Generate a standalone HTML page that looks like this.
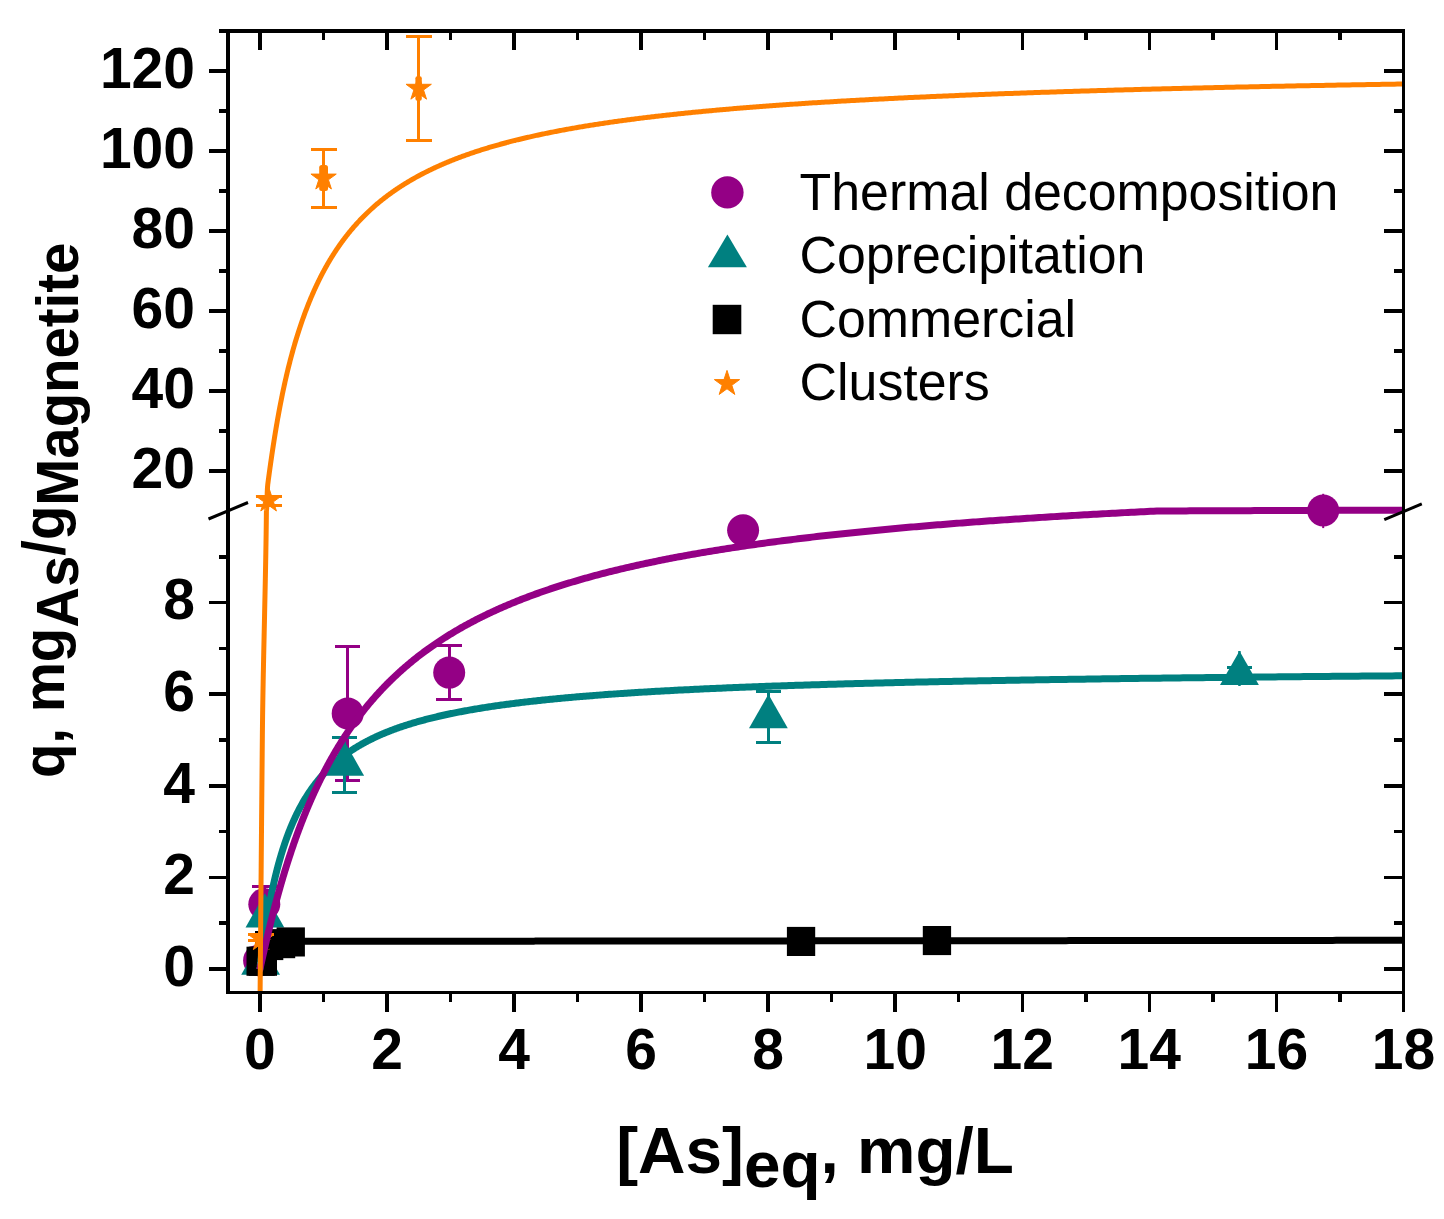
<!DOCTYPE html><html><head><meta charset="utf-8"><title>chart</title><style>html,body{margin:0;padding:0;background:#fff}svg{display:block}text{font-family:"Liberation Sans",sans-serif}</style></head><body>
<svg width="1444" height="1219" viewBox="0 0 1444 1219">
<rect width="100%" height="100%" fill="#fff"/>
<g id="purple-pts">
<g fill="#940085" shape-rendering="crispEdges"><rect x="263.0" y="886.5" width="3.0" height="35.5"/><rect x="252.0" y="885.0" width="25.0" height="3.0"/><rect x="252.0" y="920.5" width="25.0" height="3.0"/></g>
<g fill="#940085" shape-rendering="crispEdges"><rect x="346.2" y="646.8" width="3.0" height="133.4"/><rect x="335.2" y="645.3" width="25.0" height="3.0"/><rect x="335.2" y="778.7" width="25.0" height="3.0"/></g>
<g fill="#940085" shape-rendering="crispEdges"><rect x="447.7" y="645.8" width="3.0" height="54.1"/><rect x="436.2" y="644.3" width="26.0" height="3.0"/><rect x="436.2" y="698.4" width="26.0" height="3.0"/></g>
<circle cx="259.1" cy="960.4" r="16.0" fill="#940085"/>
<circle cx="264.3" cy="904.3" r="16.0" fill="#940085"/>
<circle cx="347.7" cy="713.4" r="16.0" fill="#940085"/>
<circle cx="449.2" cy="672.6" r="16.0" fill="#940085"/>
<circle cx="743.1" cy="530.2" r="16.0" fill="#940085"/>
<circle cx="1323.2" cy="510.5" r="16.0" fill="#940085"/>
<rect x="1322.2" y="493.8" width="2" height="34.3" fill="#940085"/>
</g>
<g id="teal-pts">
<g fill="#008080" shape-rendering="crispEdges"><rect x="343.2" y="737.6" width="3.0" height="54.8"/><rect x="332.2" y="736.1" width="25.0" height="3.0"/><rect x="332.2" y="790.9" width="25.0" height="3.0"/></g>
<g fill="#008080" shape-rendering="crispEdges"><rect x="766.9" y="691.5" width="3.0" height="51.2"/><rect x="755.9" y="690.0" width="25.0" height="3.0"/><rect x="755.9" y="741.2" width="25.0" height="3.0"/></g>
<g fill="#008080" shape-rendering="crispEdges"><rect x="1238.0" y="667.7" width="3.0" height="12.4"/><rect x="1227.0" y="666.2" width="25.0" height="3.0"/><rect x="1227.0" y="678.6" width="25.0" height="3.0"/></g>
<rect x="1238.2" y="651" width="2.5" height="35" fill="#008080"/>
<path d="M260.6,940.6 L280.0,974.7 L241.2,974.7 Z" fill="#008080"/>
<path d="M264.9,893.3 L284.3,927.4 L245.5,927.4 Z" fill="#008080"/>
<path d="M344.7,741.6 L364.1,775.7 L325.3,775.7 Z" fill="#008080"/>
<path d="M768.4,694.2 L787.8,728.3 L749.0,728.3 Z" fill="#008080"/>
<path d="M1239.5,651.0 L1258.9,685.1 L1220.0,685.1 Z" fill="#008080"/>
</g>
<g id="black-pts">
<rect x="276.6" y="927.4" width="28.3" height="29.1" fill="#000"/>
<rect x="266.9" y="929.1" width="28.3" height="29.1" fill="#000"/>
<rect x="255.0" y="931.0" width="28.3" height="29.1" fill="#000"/>
<rect x="246.5" y="946.7" width="28.3" height="29.1" fill="#000"/>
<rect x="248.7" y="946.7" width="28.3" height="29.1" fill="#000"/>
<rect x="786.9" y="926.9" width="28.3" height="29.1" fill="#000"/>
<rect x="922.8" y="926.0" width="28.3" height="29.1" fill="#000"/>
</g>
<g id="orange-pts">
<g fill="#FF8000" shape-rendering="crispEdges"><rect x="322.1" y="149.5" width="3.0" height="57.5"/><rect x="310.6" y="148.0" width="26.0" height="3.0"/><rect x="310.6" y="205.5" width="26.0" height="3.0"/></g>
<g fill="#FF8000" shape-rendering="crispEdges"><rect x="417.2" y="36.4" width="3.0" height="104.0"/><rect x="405.7" y="34.9" width="26.0" height="3.0"/><rect x="405.7" y="138.9" width="26.0" height="3.0"/></g>
<g fill="#FF8000" shape-rendering="crispEdges"><rect x="267.1" y="496.2" width="3.0" height="8.8"/><rect x="255.6" y="494.7" width="26.0" height="3.0"/><rect x="255.6" y="503.5" width="26.0" height="3.0"/></g>
<g fill="#FF8000" shape-rendering="crispEdges"><rect x="259.9" y="934.8" width="3.0" height="5.5"/><rect x="248.4" y="933.3" width="26.0" height="3.0"/><rect x="248.4" y="938.8" width="26.0" height="3.0"/></g>
<rect x="319.2" y="165.1" width="8.8" height="25.8" rx="2.5" fill="#FF8000"/>
<rect x="415.4" y="76.2" width="6.4" height="24.5" rx="2" fill="#FF8000"/>
<polygon points="323.60,164.90 326.59,174.09 336.25,174.09 328.43,179.77 331.42,188.96 323.60,183.28 315.78,188.96 318.77,179.77 310.95,174.09 320.61,174.09" fill="#FF8000" stroke="#FF8000" stroke-width="1" stroke-linejoin="round"/>
<polygon points="418.70,75.10 421.69,84.29 431.35,84.29 423.53,89.97 426.52,99.16 418.70,93.48 410.88,99.16 413.87,89.97 406.05,84.29 415.71,84.29" fill="#FF8000" stroke="#FF8000" stroke-width="1" stroke-linejoin="round"/>
<polygon points="268.60,486.90 271.59,496.09 281.25,496.09 273.43,501.77 276.42,510.96 268.60,505.28 260.78,510.96 263.77,501.77 255.95,496.09 265.61,496.09" fill="#FF8000" stroke="#FF8000" stroke-width="1" stroke-linejoin="round"/>
<polygon points="261.20,925.50 264.19,934.69 273.85,934.69 266.03,940.37 269.02,949.56 261.20,943.88 253.38,949.56 256.37,940.37 248.55,934.69 258.21,934.69" fill="#FF8000" stroke="#FF8000" stroke-width="1" stroke-linejoin="round"/>
</g>
<clipPath id="cp"><rect x="228.0" y="30.9" width="1175.4" height="961.5"/></clipPath>
<g fill="none" stroke-linejoin="round" clip-path="url(#cp)">
<path d="M259.90,969.00 L259.90,969.00 L259.90,969.00 L259.90,969.00 L259.90,969.00 L259.90,969.00 L259.90,969.00 L259.90,969.00 L259.90,968.99 L259.90,968.99 L259.90,968.99 L259.90,968.98 L259.90,968.98 L259.90,968.98 L259.90,968.97 L259.91,968.96 L259.91,968.95 L259.91,968.94 L259.91,968.93 L259.91,968.92 L259.91,968.91 L259.91,968.89 L259.92,968.88 L259.92,968.86 L259.92,968.84 L259.92,968.82 L259.93,968.80 L259.93,968.78 L259.93,968.75 L259.94,968.72 L259.94,968.69 L259.95,968.66 L259.95,968.63 L259.96,968.59 L259.96,968.56 L259.97,968.52 L259.97,968.47 L259.98,968.43 L259.99,968.38 L259.99,968.33 L260.00,968.28 L260.01,968.23 L260.02,968.17 L260.02,968.11 L260.03,968.05 L260.04,967.98 L260.05,967.92 L260.06,967.84 L260.07,967.77 L260.08,967.69 L260.10,967.62 L260.11,967.53 L260.12,967.45 L260.13,967.36 L260.15,967.27 L260.16,967.17 L260.18,967.07 L260.19,966.97 L260.21,966.87 L260.22,966.76 L260.24,966.65 L260.26,966.54 L260.27,966.42 L260.29,966.30 L260.31,966.18 L260.33,966.05 L260.35,965.92 L260.37,965.78 L260.39,965.65 L260.42,965.51 L260.44,965.36 L260.46,965.22 L260.49,965.07 L260.51,964.91 L260.54,964.76 L260.56,964.60 L260.59,964.43 L260.62,964.27 L260.64,964.10 L260.67,963.93 L260.70,963.75 L260.73,963.57 L260.76,963.39 L260.80,963.21 L260.83,963.02 L260.86,962.83 L260.90,962.64 L260.93,962.44 L260.97,962.25 L261.01,962.04 L261.04,961.84 L261.08,961.64 L261.12,961.43 L261.16,961.22 L261.20,961.00 L261.24,960.79 L261.29,960.57 L261.33,960.35 L261.38,960.13 L261.42,959.91 L261.47,959.68 L261.52,959.45 L261.56,959.23 L261.61,959.00 L261.66,958.76 L261.72,958.53 L261.77,958.30 L261.82,958.06 L261.88,957.83 L261.93,957.59 L261.99,957.35 L262.05,957.11 L262.10,956.87 L262.16,956.63 L262.22,956.39 L262.29,956.15 L262.35,955.91 L262.41,955.67 L262.48,955.43 L262.54,955.18 L262.61,954.94 L262.68,954.70 L262.75,954.46 L262.82,954.22 L262.89,953.98 L262.96,953.74 L263.04,953.50 L263.11,953.27 L263.19,953.03 L263.27,952.80 L263.35,952.56 L263.43,952.33 L263.51,952.10 L263.59,951.87 L263.67,951.64 L263.76,951.41 L263.85,951.19 L263.93,950.96 L264.02,950.74 L264.11,950.52 L264.20,950.31 L264.30,950.09 L264.39,949.88 L264.49,949.67 L264.58,949.46 L264.68,949.25 L264.78,949.05 L264.88,948.85 L264.99,948.65 L265.09,948.46 L265.19,948.26 L265.30,948.07 L265.41,947.89 L265.52,947.70 L265.63,947.52 L265.74,947.34 L265.86,947.17 L265.97,946.99 L266.09,946.82 L266.21,946.66 L266.33,946.50 L266.45,946.33 L266.57,946.18 L266.69,946.02 L266.82,945.87 L266.95,945.72 L267.08,945.58 L267.21,945.44 L267.34,945.30 L267.47,945.16 L267.61,945.03 L267.74,944.90 L267.88,944.78 L268.02,944.65 L268.16,944.53 L268.31,944.42 L268.45,944.30 L268.60,944.19 L268.75,944.09 L268.90,943.98 L269.05,943.88 L269.20,943.78 L269.36,943.68 L269.51,943.59 L269.67,943.50 L269.83,943.41 L269.99,943.33 L270.16,943.25 L270.32,943.17 L270.49,943.09 L270.66,943.01 L270.83,942.94 L271.00,942.87 L271.18,942.81 L271.35,942.74 L271.53,942.68 L271.71,942.62 L271.89,942.56 L272.08,942.50 L272.26,942.45 L272.45,942.40 L272.64,942.35 L272.83,942.30 L273.02,942.25 L273.22,942.21 L273.41,942.17 L273.61,942.13 L273.81,942.09 L274.02,942.05 L274.22,942.01 L274.43,941.98 L274.64,941.95 L274.85,941.92 L275.06,941.89 L275.27,941.86 L275.49,941.83 L275.71,941.80 L275.93,941.78 L276.15,941.76 L276.38,941.73 L276.60,941.71 L276.83,941.69 L277.06,941.67 L277.30,941.65 L277.53,941.64 L277.77,941.62 L278.01,941.60 L278.25,941.59 L278.49,941.58 L278.74,941.56 L278.99,941.55 L279.24,941.54 L279.49,941.53 L279.74,941.52 L280.00,941.51 L280.26,941.50 L280.52,941.49 L280.78,941.48 L281.05,941.47 L281.31,941.46 L281.58,941.46 L281.86,941.45 L282.13,941.44 L282.41,941.44 L282.69,941.43 L282.97,941.43 L283.25,941.42 L283.54,941.42 L283.83,941.41 L284.12,941.41 L284.41,941.40 L284.71,941.40 L285.00,941.40 L285.30,941.39 L285.61,941.39 L285.91,941.39 L286.22,941.39 L286.53,941.38 L286.84,941.38 L287.15,941.38 L287.47,941.38 L287.79,941.37 L288.11,941.37 L288.44,941.37 L288.76,941.37 L289.09,941.37 L289.42,941.37 L289.76,941.37 L290.09,941.36 L290.43,941.36 L290.78,941.36 L291.12,941.36 L291.47,941.36 L291.82,941.36 L292.17,941.36 L292.52,941.36 L292.88,941.36 L293.24,941.36 L293.60,941.36 L293.97,941.35 L294.33,941.35 L294.71,941.35 L295.08,941.35 L295.45,941.35 L295.83,941.35 L296.21,941.35 L296.60,941.35 L296.98,941.35 L297.37,941.35 L297.76,941.35 L298.16,941.35 L298.55,941.35 L298.95,941.35 L299.36,941.35 L299.76,941.35 L300.17,941.35 L300.58,941.35 L301.00,941.34 L301.41,941.34 L301.83,941.34 L302.25,941.34 L302.68,941.34 L303.11,941.34 L303.54,941.34 L303.97,941.34 L304.41,941.34 L304.85,941.34 L305.29,941.34 L305.73,941.34 L306.18,941.34 L306.63,941.34 L307.09,941.34 L307.54,941.34 L308.00,941.34 L308.46,941.34 L308.93,941.34 L309.40,941.34 L309.87,941.34 L310.34,941.34 L310.82,941.33 L311.30,941.33 L311.78,941.33 L312.27,941.33 L312.76,941.33 L313.25,941.33 L313.75,941.33 L314.25,941.33 L314.75,941.33 L315.25,941.33 L315.76,941.33 L316.27,941.33 L316.79,941.33 L317.30,941.33 L317.82,941.33 L318.35,941.33 L318.87,941.33 L319.40,941.33 L319.94,941.33 L320.47,941.33 L321.01,941.33 L321.55,941.32 L322.10,941.32 L322.65,941.32 L323.20,941.32 L323.76,941.32 L324.31,941.32 L324.88,941.32 L325.44,941.32 L326.01,941.32 L326.58,941.32 L327.16,941.32 L327.73,941.32 L328.32,941.32 L328.90,941.32 L329.49,941.32 L330.08,941.32 L330.67,941.32 L331.27,941.32 L331.87,941.32 L332.48,941.31 L333.09,941.31 L333.70,941.31 L334.31,941.31 L334.93,941.31 L335.55,941.31 L336.18,941.31 L336.81,941.31 L337.44,941.31 L338.07,941.31 L338.71,941.31 L339.36,941.31 L340.00,941.31 L340.65,941.31 L341.30,941.31 L341.96,941.31 L342.62,941.31 L343.28,941.30 L343.95,941.30 L344.62,941.30 L345.30,941.30 L345.97,941.30 L346.66,941.30 L347.34,941.30 L348.03,941.30 L348.72,941.30 L349.42,941.30 L350.12,941.30 L350.82,941.30 L351.53,941.30 L352.24,941.30 L352.95,941.30 L353.67,941.29 L354.39,941.29 L355.11,941.29 L355.84,941.29 L356.58,941.29 L357.31,941.29 L358.05,941.29 L358.79,941.29 L359.54,941.29 L360.29,941.29 L361.05,941.29 L361.81,941.29 L362.57,941.29 L363.34,941.29 L364.11,941.28 L364.88,941.28 L365.66,941.28 L366.44,941.28 L367.22,941.28 L368.01,941.28 L368.81,941.28 L369.60,941.28 L370.40,941.28 L371.21,941.28 L372.02,941.28 L372.83,941.28 L373.64,941.28 L374.47,941.28 L375.29,941.27 L376.12,941.27 L376.95,941.27 L377.79,941.27 L378.63,941.27 L379.47,941.27 L380.32,941.27 L381.17,941.27 L382.03,941.27 L382.89,941.27 L383.75,941.27 L384.62,941.27 L385.49,941.26 L386.37,941.26 L387.25,941.26 L388.13,941.26 L389.02,941.26 L389.91,941.26 L390.81,941.26 L391.71,941.26 L392.61,941.26 L393.52,941.26 L394.44,941.26 L395.35,941.26 L396.28,941.25 L397.20,941.25 L398.13,941.25 L399.06,941.25 L400.00,941.25 L400.95,941.25 L401.89,941.25 L402.84,941.25 L403.80,941.25 L404.76,941.25 L405.72,941.25 L406.69,941.25 L407.66,941.24 L408.64,941.24 L409.62,941.24 L410.60,941.24 L411.59,941.24 L412.59,941.24 L413.58,941.24 L414.59,941.24 L415.59,941.24 L416.60,941.24 L417.62,941.23 L418.64,941.23 L419.66,941.23 L420.69,941.23 L421.72,941.23 L422.76,941.23 L423.80,941.23 L424.85,941.23 L425.90,941.23 L426.95,941.23 L428.01,941.23 L429.08,941.22 L430.15,941.22 L431.22,941.22 L432.30,941.22 L433.38,941.22 L434.47,941.22 L435.56,941.22 L436.65,941.22 L437.75,941.22 L438.86,941.21 L439.97,941.21 L441.08,941.21 L442.20,941.21 L443.32,941.21 L444.45,941.21 L445.58,941.21 L446.72,941.21 L447.86,941.21 L449.01,941.21 L450.16,941.20 L451.31,941.20 L452.47,941.20 L453.64,941.20 L454.81,941.20 L455.98,941.20 L457.16,941.20 L458.34,941.20 L459.53,941.20 L460.72,941.19 L461.92,941.19 L463.12,941.19 L464.33,941.19 L465.54,941.19 L466.76,941.19 L467.98,941.19 L469.21,941.19 L470.44,941.19 L471.68,941.18 L472.92,941.18 L474.16,941.18 L475.41,941.18 L476.67,941.18 L477.93,941.18 L479.19,941.18 L480.46,941.18 L481.74,941.17 L483.02,941.17 L484.30,941.17 L485.59,941.17 L486.89,941.17 L488.19,941.17 L489.49,941.17 L490.80,941.17 L492.12,941.16 L493.43,941.16 L494.76,941.16 L496.09,941.16 L497.42,941.16 L498.76,941.16 L500.11,941.16 L501.46,941.16 L502.81,941.15 L504.17,941.15 L505.53,941.15 L506.90,941.15 L508.28,941.15 L509.66,941.15 L511.04,941.15 L512.43,941.15 L513.83,941.14 L515.23,941.14 L516.64,941.14 L518.05,941.14 L519.46,941.14 L520.88,941.14 L522.31,941.14 L523.74,941.14 L525.18,941.13 L526.62,941.13 L528.07,941.13 L529.52,941.13 L530.97,941.13 L532.44,941.13 L533.91,941.13 L535.38,941.12 L536.86,941.12 L538.34,941.12 L539.83,941.12 L541.32,941.12 L542.82,941.12 L544.33,941.12 L545.84,941.11 L547.35,941.11 L548.88,941.11 L550.40,941.11 L551.93,941.11 L553.47,941.11 L555.01,941.11 L556.56,941.10 L558.11,941.10 L559.67,941.10 L561.24,941.10 L562.81,941.10 L564.38,941.10 L565.96,941.10 L567.55,941.09 L569.14,941.09 L570.73,941.09 L572.34,941.09 L573.94,941.09 L575.56,941.09 L577.18,941.09 L578.80,941.08 L580.43,941.08 L582.07,941.08 L583.71,941.08 L585.35,941.08 L587.01,941.08 L588.66,941.07 L590.33,941.07 L592.00,941.07 L593.67,941.07 L595.35,941.07 L597.04,941.07 L598.73,941.07 L600.42,941.06 L602.13,941.06 L603.83,941.06 L605.55,941.06 L607.27,941.06 L608.99,941.06 L610.72,941.05 L612.46,941.05 L614.20,941.05 L615.95,941.05 L617.71,941.05 L619.47,941.05 L621.23,941.04 L623.00,941.04 L624.78,941.04 L626.56,941.04 L628.35,941.04 L630.15,941.04 L631.95,941.03 L633.75,941.03 L635.56,941.03 L637.38,941.03 L639.20,941.03 L641.03,941.03 L642.87,941.02 L644.71,941.02 L646.56,941.02 L648.41,941.02 L650.27,941.02 L652.13,941.02 L654.00,941.01 L655.88,941.01 L657.76,941.01 L659.65,941.01 L661.55,941.01 L663.45,941.00 L665.35,941.00 L667.27,941.00 L669.19,941.00 L671.11,941.00 L673.04,941.00 L674.98,940.99 L676.92,940.99 L678.87,940.99 L680.82,940.99 L682.78,940.99 L684.75,940.98 L686.72,940.98 L688.70,940.98 L690.69,940.98 L692.68,940.98 L694.68,940.98 L696.68,940.97 L698.69,940.97 L700.71,940.97 L702.73,940.97 L704.76,940.97 L706.79,940.96 L708.83,940.96 L710.88,940.96 L712.93,940.96 L714.99,940.96 L717.06,940.95 L719.13,940.95 L721.21,940.95 L723.29,940.95 L725.38,940.95 L727.48,940.94 L729.58,940.94 L731.69,940.94 L733.81,940.94 L735.93,940.94 L738.06,940.93 L740.19,940.93 L742.33,940.93 L744.48,940.93 L746.63,940.93 L748.79,940.92 L750.96,940.92 L753.13,940.92 L755.31,940.92 L757.50,940.92 L759.69,940.91 L761.89,940.91 L764.09,940.91 L766.30,940.91 L768.52,940.91 L770.74,940.90 L772.98,940.90 L775.21,940.90 L777.46,940.90 L779.71,940.90 L781.96,940.89 L784.23,940.89 L786.50,940.89 L788.77,940.89 L791.06,940.88 L793.35,940.88 L795.64,940.88 L797.94,940.88 L800.25,940.88 L802.57,940.87 L804.89,940.87 L807.22,940.87 L809.56,940.87 L811.90,940.87 L814.25,940.86 L816.60,940.86 L818.97,940.86 L821.33,940.86 L823.71,940.85 L826.09,940.85 L828.48,940.85 L830.88,940.85 L833.28,940.85 L835.69,940.84 L838.10,940.84 L840.53,940.84 L842.96,940.84 L845.39,940.83 L847.84,940.83 L850.29,940.83 L852.74,940.83 L855.21,940.82 L857.68,940.82 L860.15,940.82 L862.64,940.82 L865.13,940.82 L867.62,940.81 L870.13,940.81 L872.64,940.81 L875.16,940.81 L877.68,940.80 L880.21,940.80 L882.75,940.80 L885.30,940.80 L887.85,940.79 L890.41,940.79 L892.98,940.79 L895.55,940.79 L898.13,940.78 L900.72,940.78 L903.31,940.78 L905.92,940.78 L908.52,940.77 L911.14,940.77 L913.76,940.77 L916.39,940.77 L919.03,940.76 L921.67,940.76 L924.32,940.76 L926.98,940.76 L929.64,940.75 L932.32,940.75 L934.99,940.75 L937.68,940.75 L940.37,940.74 L943.07,940.74 L945.78,940.74 L948.50,940.74 L951.22,940.73 L953.95,940.73 L956.68,940.73 L959.43,940.73 L962.18,940.72 L964.93,940.72 L967.70,940.72 L970.47,940.72 L973.25,940.71 L976.04,940.71 L978.83,940.71 L981.63,940.71 L984.44,940.70 L987.26,940.70 L990.08,940.70 L992.91,940.70 L995.75,940.69 L998.59,940.69 L1001.44,940.69 L1004.30,940.68 L1007.17,940.68 L1010.04,940.68 L1012.92,940.68 L1015.81,940.67 L1018.71,940.67 L1021.61,940.67 L1024.52,940.67 L1027.44,940.66 L1030.37,940.66 L1033.30,940.66 L1036.24,940.66 L1039.19,940.65 L1042.15,940.65 L1045.11,940.65 L1048.08,940.64 L1051.06,940.64 L1054.04,940.64 L1057.04,940.64 L1060.04,940.63 L1063.04,940.63 L1066.06,940.63 L1069.08,940.62 L1072.11,940.62 L1075.15,940.62 L1078.20,940.62 L1081.25,940.61 L1084.31,940.61 L1087.38,940.61 L1090.46,940.60 L1093.54,940.60 L1096.63,940.60 L1099.73,940.60 L1102.84,940.59 L1105.95,940.59 L1109.07,940.59 L1112.20,940.58 L1115.34,940.58 L1118.49,940.58 L1121.64,940.57 L1124.80,940.57 L1127.97,940.57 L1131.14,940.57 L1134.33,940.56 L1137.52,940.56 L1140.72,940.56 L1143.92,940.55 L1147.14,940.55 L1150.36,940.55 L1153.59,940.55 L1156.83,940.54 L1160.07,940.54 L1163.33,940.54 L1166.59,940.53 L1169.86,940.53 L1173.14,940.53 L1176.42,940.52 L1179.71,940.52 L1183.02,940.52 L1186.32,940.51 L1189.64,940.51 L1192.96,940.51 L1196.30,940.51 L1199.64,940.50 L1202.99,940.50 L1206.34,940.50 L1209.71,940.49 L1213.08,940.49 L1216.46,940.49 L1219.85,940.48 L1223.24,940.48 L1226.65,940.48 L1230.06,940.47 L1233.48,940.47 L1236.91,940.47 L1240.34,940.46 L1243.79,940.46 L1247.24,940.46 L1250.70,940.45 L1254.17,940.45 L1257.64,940.45 L1261.13,940.44 L1264.62,940.44 L1268.12,940.44 L1271.63,940.43 L1275.15,940.43 L1278.67,940.43 L1282.21,940.42 L1285.75,940.42 L1289.30,940.42 L1292.86,940.41 L1296.42,940.41 L1300.00,940.41 L1303.58,940.40 L1307.17,940.40 L1310.77,940.40 L1314.37,940.39 L1317.99,940.39 L1321.61,940.39 L1325.25,940.38 L1328.89,940.38 L1332.53,940.38 L1336.19,940.37 L1339.86,940.37 L1343.53,940.37 L1347.21,940.36 L1350.90,940.36 L1354.60,940.36 L1358.31,940.35 L1362.02,940.35 L1365.74,940.35 L1369.48,940.34 L1373.22,940.34 L1376.96,940.34 L1380.72,940.33 L1384.49,940.33 L1388.26,940.33 L1392.04,940.32 L1395.83,940.32 L1399.63,940.31 L1403.44,940.31" stroke="#000" stroke-width="7"/>
<path d="M259.90,969.00 L259.90,969.00 L259.90,969.00 L259.90,969.00 L259.90,969.00 L259.90,969.00 L259.90,969.00 L259.90,969.00 L259.90,968.99 L259.90,968.99 L259.90,968.99 L259.90,968.98 L259.90,968.98 L259.90,968.97 L259.90,968.96 L259.91,968.95 L259.91,968.94 L259.91,968.93 L259.91,968.92 L259.91,968.91 L259.91,968.89 L259.91,968.87 L259.92,968.86 L259.92,968.84 L259.92,968.81 L259.92,968.79 L259.93,968.76 L259.93,968.73 L259.93,968.70 L259.94,968.67 L259.94,968.63 L259.95,968.60 L259.95,968.56 L259.96,968.51 L259.96,968.47 L259.97,968.42 L259.97,968.37 L259.98,968.32 L259.99,968.26 L259.99,968.20 L260.00,968.14 L260.01,968.07 L260.02,968.00 L260.02,967.93 L260.03,967.85 L260.04,967.77 L260.05,967.69 L260.06,967.60 L260.07,967.51 L260.08,967.42 L260.10,967.32 L260.11,967.22 L260.12,967.11 L260.13,967.00 L260.15,966.88 L260.16,966.76 L260.18,966.64 L260.19,966.51 L260.21,966.38 L260.22,966.25 L260.24,966.10 L260.26,965.96 L260.27,965.81 L260.29,965.65 L260.31,965.49 L260.33,965.33 L260.35,965.16 L260.37,964.98 L260.39,964.80 L260.42,964.62 L260.44,964.43 L260.46,964.23 L260.49,964.03 L260.51,963.82 L260.54,963.61 L260.56,963.40 L260.59,963.17 L260.62,962.94 L260.64,962.71 L260.67,962.47 L260.70,962.23 L260.73,961.97 L260.76,961.72 L260.80,961.45 L260.83,961.19 L260.86,960.91 L260.90,960.63 L260.93,960.34 L260.97,960.05 L261.01,959.75 L261.04,959.44 L261.08,959.13 L261.12,958.82 L261.16,958.49 L261.20,958.16 L261.24,957.82 L261.29,957.48 L261.33,957.13 L261.38,956.78 L261.42,956.41 L261.47,956.05 L261.52,955.67 L261.56,955.29 L261.61,954.90 L261.66,954.51 L261.72,954.10 L261.77,953.70 L261.82,953.28 L261.88,952.86 L261.93,952.43 L261.99,952.00 L262.05,951.56 L262.10,951.11 L262.16,950.66 L262.22,950.20 L262.29,949.73 L262.35,949.25 L262.41,948.77 L262.48,948.29 L262.54,947.79 L262.61,947.29 L262.68,946.78 L262.75,946.27 L262.82,945.75 L262.89,945.22 L262.96,944.69 L263.04,944.15 L263.11,943.60 L263.19,943.05 L263.27,942.49 L263.35,941.93 L263.43,941.36 L263.51,940.78 L263.59,940.19 L263.67,939.60 L263.76,939.00 L263.85,938.40 L263.93,937.79 L264.02,937.18 L264.11,936.55 L264.20,935.92 L264.30,935.29 L264.39,934.65 L264.49,934.00 L264.58,933.35 L264.68,932.69 L264.78,932.03 L264.88,931.36 L264.99,930.69 L265.09,930.00 L265.19,929.32 L265.30,928.63 L265.41,927.93 L265.52,927.22 L265.63,926.52 L265.74,925.80 L265.86,925.08 L265.97,924.36 L266.09,923.63 L266.21,922.89 L266.33,922.15 L266.45,921.41 L266.57,920.66 L266.69,919.91 L266.82,919.15 L266.95,918.38 L267.08,917.61 L267.21,916.84 L267.34,916.06 L267.47,915.28 L267.61,914.50 L267.74,913.71 L267.88,912.91 L268.02,912.11 L268.16,911.31 L268.31,910.50 L268.45,909.69 L268.60,908.88 L268.75,908.06 L268.90,907.24 L269.05,906.41 L269.20,905.58 L269.36,904.75 L269.51,903.92 L269.67,903.08 L269.83,902.24 L269.99,901.39 L270.16,900.54 L270.32,899.69 L270.49,898.84 L270.66,897.98 L270.83,897.12 L271.00,896.26 L271.18,895.40 L271.35,894.53 L271.53,893.66 L271.71,892.79 L271.89,891.92 L272.08,891.04 L272.26,890.16 L272.45,889.28 L272.64,888.40 L272.83,887.52 L273.02,886.63 L273.22,885.75 L273.41,884.86 L273.61,883.97 L273.81,883.08 L274.02,882.19 L274.22,881.30 L274.43,880.40 L274.64,879.51 L274.85,878.61 L275.06,877.71 L275.27,876.82 L275.49,875.92 L275.71,875.02 L275.93,874.12 L276.15,873.22 L276.38,872.32 L276.60,871.42 L276.83,870.52 L277.06,869.62 L277.30,868.71 L277.53,867.81 L277.77,866.91 L278.01,866.01 L278.25,865.11 L278.49,864.21 L278.74,863.31 L278.99,862.41 L279.24,861.51 L279.49,860.61 L279.74,859.71 L280.00,858.81 L280.26,857.92 L280.52,857.02 L280.78,856.12 L281.05,855.23 L281.31,854.33 L281.58,853.44 L281.86,852.55 L282.13,851.66 L282.41,850.77 L282.69,849.88 L282.97,849.00 L283.25,848.11 L283.54,847.23 L283.83,846.35 L284.12,845.46 L284.41,844.59 L284.71,843.71 L285.00,842.83 L285.30,841.96 L285.61,841.09 L285.91,840.22 L286.22,839.35 L286.53,838.48 L286.84,837.62 L287.15,836.75 L287.47,835.89 L287.79,835.04 L288.11,834.18 L288.44,833.33 L288.76,832.47 L289.09,831.62 L289.42,830.78 L289.76,829.93 L290.09,829.09 L290.43,828.25 L290.78,827.41 L291.12,826.58 L291.47,825.75 L291.82,824.92 L292.17,824.09 L292.52,823.26 L292.88,822.44 L293.24,821.62 L293.60,820.81 L293.97,819.99 L294.33,819.18 L294.71,818.38 L295.08,817.57 L295.45,816.77 L295.83,815.97 L296.21,815.17 L296.60,814.38 L296.98,813.59 L297.37,812.80 L297.76,812.02 L298.16,811.23 L298.55,810.46 L298.95,809.68 L299.36,808.91 L299.76,808.14 L300.17,807.37 L300.58,806.61 L301.00,805.85 L301.41,805.09 L301.83,804.34 L302.25,803.59 L302.68,802.84 L303.11,802.10 L303.54,801.36 L303.97,800.62 L304.41,799.89 L304.85,799.16 L305.29,798.43 L305.73,797.70 L306.18,796.98 L306.63,796.26 L307.09,795.55 L307.54,794.84 L308.00,794.13 L308.46,793.43 L308.93,792.73 L309.40,792.03 L309.87,791.33 L310.34,790.64 L310.82,789.95 L311.30,789.27 L311.78,788.59 L312.27,787.91 L312.76,787.24 L313.25,786.57 L313.75,785.90 L314.25,785.23 L314.75,784.57 L315.25,783.91 L315.76,783.26 L316.27,782.61 L316.79,781.96 L317.30,781.32 L317.82,780.68 L318.35,780.04 L318.87,779.40 L319.40,778.77 L319.94,778.15 L320.47,777.52 L321.01,776.90 L321.55,776.28 L322.10,775.67 L322.65,775.06 L323.20,774.45 L323.76,773.85 L324.31,773.24 L324.88,772.65 L325.44,772.05 L326.01,771.46 L326.58,770.87 L327.16,770.29 L327.73,769.71 L328.32,769.13 L328.90,768.55 L329.49,767.98 L330.08,767.41 L330.67,766.85 L331.27,766.28 L331.87,765.72 L332.48,765.17 L333.09,764.62 L333.70,764.07 L334.31,763.52 L334.93,762.98 L335.55,762.44 L336.18,761.90 L336.81,761.36 L337.44,760.83 L338.07,760.31 L338.71,759.78 L339.36,759.26 L340.00,758.74 L340.65,758.22 L341.30,757.71 L341.96,757.20 L342.62,756.70 L343.28,756.19 L343.95,755.69 L344.62,755.19 L345.30,754.70 L345.97,754.21 L346.66,753.72 L347.34,753.23 L348.03,752.75 L348.72,752.27 L349.42,751.79 L350.12,751.32 L350.82,750.84 L351.53,750.38 L352.24,749.91 L352.95,749.45 L353.67,748.99 L354.39,748.53 L355.11,748.07 L355.84,747.62 L356.58,747.17 L357.31,746.73 L358.05,746.28 L358.79,745.84 L359.54,745.40 L360.29,744.97 L361.05,744.53 L361.81,744.10 L362.57,743.67 L363.34,743.25 L364.11,742.83 L364.88,742.41 L365.66,741.99 L366.44,741.57 L367.22,741.16 L368.01,740.75 L368.81,740.34 L369.60,739.94 L370.40,739.54 L371.21,739.14 L372.02,738.74 L372.83,738.34 L373.64,737.95 L374.47,737.56 L375.29,737.17 L376.12,736.79 L376.95,736.41 L377.79,736.02 L378.63,735.65 L379.47,735.27 L380.32,734.90 L381.17,734.53 L382.03,734.16 L382.89,733.79 L383.75,733.43 L384.62,733.06 L385.49,732.70 L386.37,732.35 L387.25,731.99 L388.13,731.64 L389.02,731.29 L389.91,730.94 L390.81,730.59 L391.71,730.25 L392.61,729.91 L393.52,729.57 L394.44,729.23 L395.35,728.89 L396.28,728.56 L397.20,728.23 L398.13,727.90 L399.06,727.57 L400.00,727.24 L400.95,726.92 L401.89,726.60 L402.84,726.28 L403.80,725.96 L404.76,725.65 L405.72,725.33 L406.69,725.02 L407.66,724.71 L408.64,724.40 L409.62,724.10 L410.60,723.80 L411.59,723.49 L412.59,723.19 L413.58,722.90 L414.59,722.60 L415.59,722.30 L416.60,722.01 L417.62,721.72 L418.64,721.43 L419.66,721.14 L420.69,720.86 L421.72,720.58 L422.76,720.29 L423.80,720.01 L424.85,719.74 L425.90,719.46 L426.95,719.18 L428.01,718.91 L429.08,718.64 L430.15,718.37 L431.22,718.10 L432.30,717.84 L433.38,717.57 L434.47,717.31 L435.56,717.05 L436.65,716.79 L437.75,716.53 L438.86,716.27 L439.97,716.02 L441.08,715.76 L442.20,715.51 L443.32,715.26 L444.45,715.01 L445.58,714.76 L446.72,714.52 L447.86,714.27 L449.01,714.03 L450.16,713.79 L451.31,713.55 L452.47,713.31 L453.64,713.08 L454.81,712.84 L455.98,712.61 L457.16,712.37 L458.34,712.14 L459.53,711.91 L460.72,711.69 L461.92,711.46 L463.12,711.23 L464.33,711.01 L465.54,710.79 L466.76,710.57 L467.98,710.35 L469.21,710.13 L470.44,709.91 L471.68,709.69 L472.92,709.48 L474.16,709.27 L475.41,709.05 L476.67,708.84 L477.93,708.63 L479.19,708.43 L480.46,708.22 L481.74,708.01 L483.02,707.81 L484.30,707.61 L485.59,707.40 L486.89,707.20 L488.19,707.00 L489.49,706.81 L490.80,706.61 L492.12,706.41 L493.43,706.22 L494.76,706.03 L496.09,705.83 L497.42,705.64 L498.76,705.45 L500.11,705.26 L501.46,705.08 L502.81,704.89 L504.17,704.70 L505.53,704.52 L506.90,704.34 L508.28,704.16 L509.66,703.97 L511.04,703.79 L512.43,703.62 L513.83,703.44 L515.23,703.26 L516.64,703.09 L518.05,702.91 L519.46,702.74 L520.88,702.57 L522.31,702.39 L523.74,702.22 L525.18,702.05 L526.62,701.89 L528.07,701.72 L529.52,701.55 L530.97,701.39 L532.44,701.22 L533.91,701.06 L535.38,700.90 L536.86,700.73 L538.34,700.57 L539.83,700.41 L541.32,700.26 L542.82,700.10 L544.33,699.94 L545.84,699.79 L547.35,699.63 L548.88,699.48 L550.40,699.32 L551.93,699.17 L553.47,699.02 L555.01,698.87 L556.56,698.72 L558.11,698.57 L559.67,698.42 L561.24,698.28 L562.81,698.13 L564.38,697.98 L565.96,697.84 L567.55,697.70 L569.14,697.55 L570.73,697.41 L572.34,697.27 L573.94,697.13 L575.56,696.99 L577.18,696.85 L578.80,696.71 L580.43,696.58 L582.07,696.44 L583.71,696.31 L585.35,696.17 L587.01,696.04 L588.66,695.90 L590.33,695.77 L592.00,695.64 L593.67,695.51 L595.35,695.38 L597.04,695.25 L598.73,695.12 L600.42,694.99 L602.13,694.87 L603.83,694.74 L605.55,694.61 L607.27,694.49 L608.99,694.36 L610.72,694.24 L612.46,694.12 L614.20,694.00 L615.95,693.87 L617.71,693.75 L619.47,693.63 L621.23,693.51 L623.00,693.39 L624.78,693.28 L626.56,693.16 L628.35,693.04 L630.15,692.93 L631.95,692.81 L633.75,692.70 L635.56,692.58 L637.38,692.47 L639.20,692.35 L641.03,692.24 L642.87,692.13 L644.71,692.02 L646.56,691.91 L648.41,691.80 L650.27,691.69 L652.13,691.58 L654.00,691.47 L655.88,691.37 L657.76,691.26 L659.65,691.15 L661.55,691.05 L663.45,690.94 L665.35,690.84 L667.27,690.73 L669.19,690.63 L671.11,690.53 L673.04,690.43 L674.98,690.32 L676.92,690.22 L678.87,690.12 L680.82,690.02 L682.78,689.92 L684.75,689.83 L686.72,689.73 L688.70,689.63 L690.69,689.53 L692.68,689.43 L694.68,689.34 L696.68,689.24 L698.69,689.15 L700.71,689.05 L702.73,688.96 L704.76,688.87 L706.79,688.77 L708.83,688.68 L710.88,688.59 L712.93,688.50 L714.99,688.41 L717.06,688.31 L719.13,688.22 L721.21,688.13 L723.29,688.05 L725.38,687.96 L727.48,687.87 L729.58,687.78 L731.69,687.69 L733.81,687.61 L735.93,687.52 L738.06,687.43 L740.19,687.35 L742.33,687.26 L744.48,687.18 L746.63,687.10 L748.79,687.01 L750.96,686.93 L753.13,686.85 L755.31,686.76 L757.50,686.68 L759.69,686.60 L761.89,686.52 L764.09,686.44 L766.30,686.36 L768.52,686.28 L770.74,686.20 L772.98,686.12 L775.21,686.04 L777.46,685.96 L779.71,685.89 L781.96,685.81 L784.23,685.73 L786.50,685.66 L788.77,685.58 L791.06,685.50 L793.35,685.43 L795.64,685.35 L797.94,685.28 L800.25,685.21 L802.57,685.13 L804.89,685.06 L807.22,684.99 L809.56,684.91 L811.90,684.84 L814.25,684.77 L816.60,684.70 L818.97,684.63 L821.33,684.56 L823.71,684.48 L826.09,684.41 L828.48,684.35 L830.88,684.28 L833.28,684.21 L835.69,684.14 L838.10,684.07 L840.53,684.00 L842.96,683.93 L845.39,683.87 L847.84,683.80 L850.29,683.73 L852.74,683.67 L855.21,683.60 L857.68,683.54 L860.15,683.47 L862.64,683.41 L865.13,683.34 L867.62,683.28 L870.13,683.21 L872.64,683.15 L875.16,683.09 L877.68,683.02 L880.21,682.96 L882.75,682.90 L885.30,682.84 L887.85,682.77 L890.41,682.71 L892.98,682.65 L895.55,682.59 L898.13,682.53 L900.72,682.47 L903.31,682.41 L905.92,682.35 L908.52,682.29 L911.14,682.23 L913.76,682.17 L916.39,682.12 L919.03,682.06 L921.67,682.00 L924.32,681.94 L926.98,681.89 L929.64,681.83 L932.32,681.77 L934.99,681.72 L937.68,681.66 L940.37,681.60 L943.07,681.55 L945.78,681.49 L948.50,681.44 L951.22,681.38 L953.95,681.33 L956.68,681.27 L959.43,681.22 L962.18,681.17 L964.93,681.11 L967.70,681.06 L970.47,681.01 L973.25,680.95 L976.04,680.90 L978.83,680.85 L981.63,680.80 L984.44,680.74 L987.26,680.69 L990.08,680.64 L992.91,680.59 L995.75,680.54 L998.59,680.49 L1001.44,680.44 L1004.30,680.39 L1007.17,680.34 L1010.04,680.29 L1012.92,680.24 L1015.81,680.19 L1018.71,680.14 L1021.61,680.09 L1024.52,680.05 L1027.44,680.00 L1030.37,679.95 L1033.30,679.90 L1036.24,679.86 L1039.19,679.81 L1042.15,679.76 L1045.11,679.71 L1048.08,679.67 L1051.06,679.62 L1054.04,679.58 L1057.04,679.53 L1060.04,679.48 L1063.04,679.44 L1066.06,679.39 L1069.08,679.35 L1072.11,679.30 L1075.15,679.26 L1078.20,679.21 L1081.25,679.17 L1084.31,679.13 L1087.38,679.08 L1090.46,679.04 L1093.54,678.99 L1096.63,678.95 L1099.73,678.91 L1102.84,678.87 L1105.95,678.82 L1109.07,678.78 L1112.20,678.74 L1115.34,678.70 L1118.49,678.65 L1121.64,678.61 L1124.80,678.57 L1127.97,678.53 L1131.14,678.49 L1134.33,678.45 L1137.52,678.41 L1140.72,678.37 L1143.92,678.33 L1147.14,678.29 L1150.36,678.25 L1153.59,678.21 L1156.83,678.17 L1160.07,678.13 L1163.33,678.09 L1166.59,678.05 L1169.86,678.01 L1173.14,677.97 L1176.42,677.93 L1179.71,677.90 L1183.02,677.86 L1186.32,677.82 L1189.64,677.78 L1192.96,677.74 L1196.30,677.71 L1199.64,677.67 L1202.99,677.63 L1206.34,677.59 L1209.71,677.56 L1213.08,677.52 L1216.46,677.48 L1219.85,677.45 L1223.24,677.41 L1226.65,677.38 L1230.06,677.34 L1233.48,677.30 L1236.91,677.27 L1240.34,677.23 L1243.79,677.20 L1247.24,677.16 L1250.70,677.13 L1254.17,677.09 L1257.64,677.06 L1261.13,677.02 L1264.62,676.99 L1268.12,676.96 L1271.63,676.92 L1275.15,676.89 L1278.67,676.85 L1282.21,676.82 L1285.75,676.79 L1289.30,676.75 L1292.86,676.72 L1296.42,676.69 L1300.00,676.66 L1303.58,676.62 L1307.17,676.59 L1310.77,676.56 L1314.37,676.53 L1317.99,676.49 L1321.61,676.46 L1325.25,676.43 L1328.89,676.40 L1332.53,676.37 L1336.19,676.33 L1339.86,676.30 L1343.53,676.27 L1347.21,676.24 L1350.90,676.21 L1354.60,676.18 L1358.31,676.15 L1362.02,676.12 L1365.74,676.09 L1369.48,676.06 L1373.22,676.03 L1376.96,676.00 L1380.72,675.97 L1384.49,675.94 L1388.26,675.91 L1392.04,675.88 L1395.83,675.85 L1399.63,675.82 L1403.44,675.79" stroke="#008080" stroke-width="7"/>
<path d="M259.90,969.00 L259.90,969.00 L259.90,969.00 L259.90,969.00 L259.90,969.00 L259.90,969.00 L259.90,969.00 L259.90,969.00 L259.90,969.00 L259.90,969.00 L259.90,968.99 L259.90,968.99 L259.90,968.99 L259.90,968.99 L259.90,968.98 L259.91,968.98 L259.91,968.98 L259.91,968.97 L259.91,968.97 L259.91,968.96 L259.91,968.95 L259.91,968.95 L259.92,968.94 L259.92,968.93 L259.92,968.92 L259.92,968.91 L259.93,968.89 L259.93,968.88 L259.93,968.87 L259.94,968.85 L259.94,968.83 L259.95,968.82 L259.95,968.80 L259.96,968.78 L259.96,968.76 L259.97,968.73 L259.97,968.71 L259.98,968.68 L259.99,968.65 L259.99,968.63 L260.00,968.60 L260.01,968.56 L260.02,968.53 L260.02,968.49 L260.03,968.46 L260.04,968.42 L260.05,968.38 L260.06,968.33 L260.07,968.29 L260.08,968.24 L260.10,968.19 L260.11,968.14 L260.12,968.09 L260.13,968.03 L260.15,967.97 L260.16,967.91 L260.18,967.85 L260.19,967.79 L260.21,967.72 L260.22,967.65 L260.24,967.58 L260.26,967.50 L260.27,967.43 L260.29,967.35 L260.31,967.26 L260.33,967.18 L260.35,967.09 L260.37,967.00 L260.39,966.91 L260.42,966.81 L260.44,966.71 L260.46,966.61 L260.49,966.50 L260.51,966.39 L260.54,966.28 L260.56,966.17 L260.59,966.05 L260.62,965.93 L260.64,965.80 L260.67,965.68 L260.70,965.54 L260.73,965.41 L260.76,965.27 L260.80,965.13 L260.83,964.98 L260.86,964.84 L260.90,964.68 L260.93,964.53 L260.97,964.37 L261.01,964.20 L261.04,964.04 L261.08,963.86 L261.12,963.69 L261.16,963.51 L261.20,963.33 L261.24,963.14 L261.29,962.95 L261.33,962.75 L261.38,962.55 L261.42,962.35 L261.47,962.14 L261.52,961.93 L261.56,961.71 L261.61,961.49 L261.66,961.27 L261.72,961.04 L261.77,960.81 L261.82,960.57 L261.88,960.33 L261.93,960.08 L261.99,959.83 L262.05,959.57 L262.10,959.31 L262.16,959.04 L262.22,958.77 L262.29,958.50 L262.35,958.22 L262.41,957.93 L262.48,957.65 L262.54,957.35 L262.61,957.05 L262.68,956.75 L262.75,956.44 L262.82,956.13 L262.89,955.81 L262.96,955.48 L263.04,955.15 L263.11,954.82 L263.19,954.48 L263.27,954.14 L263.35,953.79 L263.43,953.43 L263.51,953.07 L263.59,952.71 L263.67,952.34 L263.76,951.96 L263.85,951.58 L263.93,951.19 L264.02,950.80 L264.11,950.40 L264.20,950.00 L264.30,949.59 L264.39,949.18 L264.49,948.76 L264.58,948.34 L264.68,947.91 L264.78,947.47 L264.88,947.03 L264.99,946.59 L265.09,946.14 L265.19,945.68 L265.30,945.22 L265.41,944.75 L265.52,944.27 L265.63,943.79 L265.74,943.31 L265.86,942.82 L265.97,942.32 L266.09,941.82 L266.21,941.31 L266.33,940.80 L266.45,940.28 L266.57,939.75 L266.69,939.22 L266.82,938.69 L266.95,938.15 L267.08,937.60 L267.21,937.04 L267.34,936.49 L267.47,935.92 L267.61,935.35 L267.74,934.78 L267.88,934.19 L268.02,933.61 L268.16,933.01 L268.31,932.41 L268.45,931.81 L268.60,931.20 L268.75,930.58 L268.90,929.96 L269.05,929.34 L269.20,928.70 L269.36,928.07 L269.51,927.42 L269.67,926.77 L269.83,926.12 L269.99,925.46 L270.16,924.79 L270.32,924.12 L270.49,923.44 L270.66,922.76 L270.83,922.07 L271.00,921.37 L271.18,920.67 L271.35,919.97 L271.53,919.26 L271.71,918.54 L271.89,917.82 L272.08,917.09 L272.26,916.36 L272.45,915.62 L272.64,914.88 L272.83,914.13 L273.02,913.38 L273.22,912.62 L273.41,911.86 L273.61,911.09 L273.81,910.31 L274.02,909.53 L274.22,908.75 L274.43,907.96 L274.64,907.16 L274.85,906.36 L275.06,905.56 L275.27,904.75 L275.49,903.93 L275.71,903.11 L275.93,902.29 L276.15,901.46 L276.38,900.62 L276.60,899.78 L276.83,898.94 L277.06,898.09 L277.30,897.23 L277.53,896.37 L277.77,895.51 L278.01,894.64 L278.25,893.77 L278.49,892.89 L278.74,892.01 L278.99,891.13 L279.24,890.23 L279.49,889.34 L279.74,888.44 L280.00,887.54 L280.26,886.63 L280.52,885.72 L280.78,884.80 L281.05,883.88 L281.31,882.96 L281.58,882.03 L281.86,881.10 L282.13,880.16 L282.41,879.22 L282.69,878.27 L282.97,877.33 L283.25,876.37 L283.54,875.42 L283.83,874.46 L284.12,873.50 L284.41,872.53 L284.71,871.56 L285.00,870.59 L285.30,869.61 L285.61,868.63 L285.91,867.65 L286.22,866.66 L286.53,865.67 L286.84,864.67 L287.15,863.68 L287.47,862.68 L287.79,861.68 L288.11,860.67 L288.44,859.66 L288.76,858.65 L289.09,857.63 L289.42,856.62 L289.76,855.60 L290.09,854.57 L290.43,853.55 L290.78,852.52 L291.12,851.49 L291.47,850.46 L291.82,849.42 L292.17,848.38 L292.52,847.34 L292.88,846.30 L293.24,845.25 L293.60,844.21 L293.97,843.16 L294.33,842.11 L294.71,841.05 L295.08,840.00 L295.45,838.94 L295.83,837.88 L296.21,836.82 L296.60,835.76 L296.98,834.69 L297.37,833.62 L297.76,832.56 L298.16,831.49 L298.55,830.42 L298.95,829.34 L299.36,828.27 L299.76,827.19 L300.17,826.12 L300.58,825.04 L301.00,823.96 L301.41,822.88 L301.83,821.80 L302.25,820.72 L302.68,819.63 L303.11,818.55 L303.54,817.46 L303.97,816.38 L304.41,815.29 L304.85,814.20 L305.29,813.11 L305.73,812.03 L306.18,810.94 L306.63,809.85 L307.09,808.75 L307.54,807.66 L308.00,806.57 L308.46,805.48 L308.93,804.39 L309.40,803.29 L309.87,802.20 L310.34,801.11 L310.82,800.02 L311.30,798.92 L311.78,797.83 L312.27,796.74 L312.76,795.64 L313.25,794.55 L313.75,793.46 L314.25,792.36 L314.75,791.27 L315.25,790.18 L315.76,789.09 L316.27,787.99 L316.79,786.90 L317.30,785.81 L317.82,784.72 L318.35,783.63 L318.87,782.54 L319.40,781.45 L319.94,780.37 L320.47,779.28 L321.01,778.19 L321.55,777.11 L322.10,776.02 L322.65,774.94 L323.20,773.86 L323.76,772.77 L324.31,771.69 L324.88,770.61 L325.44,769.53 L326.01,768.45 L326.58,767.38 L327.16,766.30 L327.73,765.23 L328.32,764.15 L328.90,763.08 L329.49,762.01 L330.08,760.94 L330.67,759.87 L331.27,758.81 L331.87,757.74 L332.48,756.68 L333.09,755.61 L333.70,754.55 L334.31,753.49 L334.93,752.44 L335.55,751.38 L336.18,750.33 L336.81,749.27 L337.44,748.22 L338.07,747.17 L338.71,746.13 L339.36,745.08 L340.00,744.04 L340.65,743.00 L341.30,741.96 L341.96,740.92 L342.62,739.88 L343.28,738.85 L343.95,737.81 L344.62,736.78 L345.30,735.76 L345.97,734.73 L346.66,733.71 L347.34,732.68 L348.03,731.66 L348.72,730.65 L349.42,729.63 L350.12,728.62 L350.82,727.61 L351.53,726.60 L352.24,725.59 L352.95,724.59 L353.67,723.59 L354.39,722.59 L355.11,721.59 L355.84,720.60 L356.58,719.60 L357.31,718.61 L358.05,717.63 L358.79,716.64 L359.54,715.66 L360.29,714.68 L361.05,713.70 L361.81,712.73 L362.57,711.75 L363.34,710.78 L364.11,709.82 L364.88,708.85 L365.66,707.89 L366.44,706.93 L367.22,705.97 L368.01,705.02 L368.81,704.07 L369.60,703.12 L370.40,702.17 L371.21,701.23 L372.02,700.29 L372.83,699.35 L373.64,698.41 L374.47,697.48 L375.29,696.55 L376.12,695.62 L376.95,694.70 L377.79,693.78 L378.63,692.86 L379.47,691.94 L380.32,691.03 L381.17,690.12 L382.03,689.21 L382.89,688.31 L383.75,687.40 L384.62,686.51 L385.49,685.61 L386.37,684.72 L387.25,683.83 L388.13,682.94 L389.02,682.05 L389.91,681.17 L390.81,680.29 L391.71,679.42 L392.61,678.54 L393.52,677.67 L394.44,676.81 L395.35,675.94 L396.28,675.08 L397.20,674.22 L398.13,673.37 L399.06,672.51 L400.00,671.66 L400.95,670.82 L401.89,669.97 L402.84,669.13 L403.80,668.29 L404.76,667.46 L405.72,666.63 L406.69,665.80 L407.66,664.97 L408.64,664.15 L409.62,663.33 L410.60,662.51 L411.59,661.70 L412.59,660.89 L413.58,660.08 L414.59,659.27 L415.59,658.47 L416.60,657.67 L417.62,656.87 L418.64,656.08 L419.66,655.29 L420.69,654.50 L421.72,653.72 L422.76,652.94 L423.80,652.16 L424.85,651.38 L425.90,650.61 L426.95,649.84 L428.01,649.07 L429.08,648.31 L430.15,647.55 L431.22,646.79 L432.30,646.04 L433.38,645.28 L434.47,644.53 L435.56,643.79 L436.65,643.04 L437.75,642.30 L438.86,641.57 L439.97,640.83 L441.08,640.10 L442.20,639.37 L443.32,638.65 L444.45,637.92 L445.58,637.20 L446.72,636.49 L447.86,635.77 L449.01,635.06 L450.16,634.35 L451.31,633.65 L452.47,632.94 L453.64,632.24 L454.81,631.55 L455.98,630.85 L457.16,630.16 L458.34,629.47 L459.53,628.79 L460.72,628.10 L461.92,627.42 L463.12,626.75 L464.33,626.07 L465.54,625.40 L466.76,624.73 L467.98,624.06 L469.21,623.40 L470.44,622.74 L471.68,622.08 L472.92,621.43 L474.16,620.78 L475.41,620.13 L476.67,619.48 L477.93,618.84 L479.19,618.19 L480.46,617.56 L481.74,616.92 L483.02,616.29 L484.30,615.66 L485.59,615.03 L486.89,614.40 L488.19,613.78 L489.49,613.16 L490.80,612.55 L492.12,611.93 L493.43,611.32 L494.76,610.71 L496.09,610.10 L497.42,609.50 L498.76,608.90 L500.11,608.30 L501.46,607.70 L502.81,607.11 L504.17,606.52 L505.53,605.93 L506.90,605.35 L508.28,604.76 L509.66,604.18 L511.04,603.61 L512.43,603.03 L513.83,602.46 L515.23,601.89 L516.64,601.32 L518.05,600.75 L519.46,600.19 L520.88,599.63 L522.31,599.07 L523.74,598.52 L525.18,597.96 L526.62,597.41 L528.07,596.86 L529.52,596.32 L530.97,595.78 L532.44,595.24 L533.91,594.70 L535.38,594.16 L536.86,593.63 L538.34,593.10 L539.83,592.57 L541.32,592.04 L542.82,591.52 L544.33,590.99 L545.84,590.48 L547.35,589.96 L548.88,589.44 L550.40,588.93 L551.93,588.42 L553.47,587.91 L555.01,587.41 L556.56,586.90 L558.11,586.40 L559.67,585.90 L561.24,585.41 L562.81,584.91 L564.38,584.42 L565.96,583.93 L567.55,583.44 L569.14,582.96 L570.73,582.48 L572.34,581.99 L573.94,581.52 L575.56,581.04 L577.18,580.56 L578.80,580.09 L580.43,579.62 L582.07,579.15 L583.71,578.69 L585.35,578.22 L587.01,577.76 L588.66,577.30 L590.33,576.84 L592.00,576.39 L593.67,575.94 L595.35,575.48 L597.04,575.04 L598.73,574.59 L600.42,574.14 L602.13,573.70 L603.83,573.26 L605.55,572.82 L607.27,572.38 L608.99,571.95 L610.72,571.51 L612.46,571.08 L614.20,570.65 L615.95,570.23 L617.71,569.80 L619.47,569.38 L621.23,568.96 L623.00,568.54 L624.78,568.12 L626.56,567.71 L628.35,567.29 L630.15,566.88 L631.95,566.47 L633.75,566.06 L635.56,565.66 L637.38,565.25 L639.20,564.85 L641.03,564.45 L642.87,564.05 L644.71,563.65 L646.56,563.26 L648.41,562.86 L650.27,562.47 L652.13,562.08 L654.00,561.70 L655.88,561.31 L657.76,560.93 L659.65,560.54 L661.55,560.16 L663.45,559.78 L665.35,559.41 L667.27,559.03 L669.19,558.66 L671.11,558.28 L673.04,557.91 L674.98,557.54 L676.92,557.18 L678.87,556.81 L680.82,556.45 L682.78,556.09 L684.75,555.73 L686.72,555.37 L688.70,555.01 L690.69,554.66 L692.68,554.30 L694.68,553.95 L696.68,553.60 L698.69,553.25 L700.71,552.90 L702.73,552.56 L704.76,552.21 L706.79,551.87 L708.83,551.53 L710.88,551.19 L712.93,550.85 L714.99,550.52 L717.06,550.18 L719.13,549.85 L721.21,549.52 L723.29,549.19 L725.38,548.86 L727.48,548.53 L729.58,548.20 L731.69,547.88 L733.81,547.56 L735.93,547.24 L738.06,546.92 L740.19,546.60 L742.33,546.28 L744.48,545.97 L746.63,545.65 L748.79,545.34 L750.96,545.03 L753.13,544.72 L755.31,544.41 L757.50,544.10 L759.69,543.80 L761.89,543.49 L764.09,543.19 L766.30,542.89 L768.52,542.59 L770.74,542.29 L772.98,541.99 L775.21,541.70 L777.46,541.40 L779.71,541.11 L781.96,540.82 L784.23,540.53 L786.50,540.24 L788.77,539.95 L791.06,539.66 L793.35,539.38 L795.64,539.10 L797.94,538.81 L800.25,538.53 L802.57,538.25 L804.89,537.97 L807.22,537.69 L809.56,537.42 L811.90,537.14 L814.25,536.87 L816.60,536.60 L818.97,536.33 L821.33,536.06 L823.71,535.79 L826.09,535.52 L828.48,535.25 L830.88,534.99 L833.28,534.72 L835.69,534.46 L838.10,534.20 L840.53,533.94 L842.96,533.68 L845.39,533.42 L847.84,533.16 L850.29,532.91 L852.74,532.65 L855.21,532.40 L857.68,532.15 L860.15,531.90 L862.64,531.65 L865.13,531.40 L867.62,531.15 L870.13,530.90 L872.64,530.66 L875.16,530.41 L877.68,530.17 L880.21,529.93 L882.75,529.68 L885.30,529.44 L887.85,529.20 L890.41,528.97 L892.98,528.73 L895.55,528.49 L898.13,528.26 L900.72,528.02 L903.31,527.79 L905.92,527.56 L908.52,527.33 L911.14,527.10 L913.76,526.87 L916.39,526.64 L919.03,526.42 L921.67,526.19 L924.32,525.97 L926.98,525.74 L929.64,525.52 L932.32,525.30 L934.99,525.08 L937.68,524.86 L940.37,524.64 L943.07,524.42 L945.78,524.20 L948.50,523.99 L951.22,523.77 L953.95,523.56 L956.68,523.35 L959.43,523.13 L962.18,522.92 L964.93,522.71 L967.70,522.50 L970.47,522.30 L973.25,522.09 L976.04,521.88 L978.83,521.68 L981.63,521.47 L984.44,521.27 L987.26,521.06 L990.08,520.86 L992.91,520.66 L995.75,520.46 L998.59,520.26 L1001.44,520.06 L1004.30,519.87 L1007.17,519.67 L1010.04,519.47 L1012.92,519.28 L1015.81,519.08 L1018.71,518.89 L1021.61,518.70 L1024.52,518.51 L1027.44,518.31 L1030.37,518.12 L1033.30,517.94 L1036.24,517.75 L1039.19,517.56 L1042.15,517.37 L1045.11,517.19 L1048.08,517.00 L1051.06,516.82 L1054.04,516.63 L1057.04,516.45 L1060.04,516.27 L1063.04,516.09 L1066.06,515.91 L1069.08,515.73 L1072.11,515.55 L1075.15,515.37 L1078.20,515.19 L1081.25,515.02 L1084.31,514.84 L1087.38,514.67 L1090.46,514.49 L1093.54,514.32 L1096.63,514.15 L1099.73,513.97 L1102.84,513.80 L1105.95,513.63 L1109.07,513.46 L1112.20,513.29 L1115.34,513.13 L1118.49,512.96 L1121.64,512.79 L1124.80,512.62 L1127.97,512.46 L1131.14,512.29 L1134.33,512.13 L1137.52,511.97 L1140.72,511.80 L1143.92,511.64 L1147.14,511.48 L1150.36,511.32 L1153.59,511.16 L1156.83,511.00 L1160.07,510.99 L1163.33,510.97 L1166.59,510.96 L1169.86,510.95 L1173.14,510.93 L1176.42,510.92 L1179.71,510.90 L1183.02,510.89 L1186.32,510.88 L1189.64,510.86 L1192.96,510.85 L1196.30,510.84 L1199.64,510.82 L1202.99,510.81 L1206.34,510.80 L1209.71,510.79 L1213.08,510.77 L1216.46,510.76 L1219.85,510.75 L1223.24,510.73 L1226.65,510.72 L1230.06,510.71 L1233.48,510.70 L1236.91,510.68 L1240.34,510.67 L1243.79,510.66 L1247.24,510.65 L1250.70,510.63 L1254.17,510.62 L1257.64,510.61 L1261.13,510.60 L1264.62,510.58 L1268.12,510.57 L1271.63,510.56 L1275.15,510.55 L1278.67,510.54 L1282.21,510.52 L1285.75,510.51 L1289.30,510.50 L1292.86,510.49 L1296.42,510.48 L1300.00,510.47 L1303.58,510.45 L1307.17,510.44 L1310.77,510.43 L1314.37,510.42 L1317.99,510.41 L1321.61,510.40 L1325.25,510.39 L1328.89,510.37 L1332.53,510.36 L1336.19,510.35 L1339.86,510.34 L1343.53,510.33 L1347.21,510.32 L1350.90,510.31 L1354.60,510.30 L1358.31,510.29 L1362.02,510.27 L1365.74,510.26 L1369.48,510.25 L1373.22,510.24 L1376.96,510.23 L1380.72,510.22 L1384.49,510.21 L1388.26,510.20 L1392.04,510.19 L1395.83,510.18 L1399.63,510.17 L1403.44,510.16" stroke="#940085" stroke-width="7"/>
<path d="M260.05,999.27 L260.05,999.27 L260.05,999.27 L260.05,999.27 L260.05,999.27 L260.05,999.27 L260.05,999.27 L260.05,999.27 L260.05,999.27 L260.05,999.27 L260.05,999.27 L260.05,999.27 L260.05,999.27 L260.05,999.27 L260.05,999.27 L260.05,999.27 L260.05,999.27 L260.05,999.27 L260.05,999.27 L260.05,999.27 L260.05,999.27 L260.05,999.26 L260.05,999.26 L260.05,999.26 L260.05,999.26 L260.05,999.26 L260.05,999.26 L260.05,999.26 L260.05,999.25 L260.05,999.25 L260.05,999.25 L260.05,999.24 L260.05,999.24 L260.05,999.24 L260.05,999.23 L260.05,999.23 L260.05,999.22 L260.05,999.22 L260.05,999.21 L260.05,999.21 L260.05,999.20 L260.05,999.19 L260.05,999.19 L260.05,999.18 L260.05,999.17 L260.05,999.16 L260.05,999.15 L260.05,999.14 L260.05,999.13 L260.05,999.11 L260.05,999.10 L260.05,999.09 L260.05,999.07 L260.05,999.06 L260.05,999.04 L260.05,999.02 L260.05,999.00 L260.05,998.98 L260.05,998.96 L260.05,998.94 L260.05,998.92 L260.05,998.90 L260.05,998.87 L260.05,998.84 L260.05,998.82 L260.05,998.79 L260.05,998.76 L260.05,998.72 L260.05,998.69 L260.05,998.66 L260.05,998.62 L260.05,998.58 L260.05,998.54 L260.05,998.50 L260.05,998.46 L260.05,998.41 L260.05,998.37 L260.05,998.32 L260.05,998.27 L260.05,998.22 L260.06,998.16 L260.06,998.11 L260.06,998.05 L260.06,997.99 L260.06,997.92 L260.06,997.86 L260.06,997.79 L260.06,997.72 L260.06,997.65 L260.06,997.57 L260.06,997.50 L260.06,997.42 L260.06,997.33 L260.06,997.25 L260.06,997.16 L260.06,997.07 L260.07,996.97 L260.07,996.88 L260.07,996.78 L260.07,996.67 L260.07,996.57 L260.07,996.46 L260.07,996.34 L260.07,996.23 L260.07,996.11 L260.07,995.98 L260.07,995.86 L260.08,995.73 L260.08,995.59 L260.08,995.45 L260.08,995.31 L260.08,995.17 L260.08,995.02 L260.08,994.86 L260.08,994.70 L260.09,994.54 L260.09,994.37 L260.09,994.20 L260.09,994.03 L260.09,993.85 L260.09,993.66 L260.09,993.48 L260.10,993.28 L260.10,993.08 L260.10,992.88 L260.10,992.67 L260.10,992.46 L260.10,992.24 L260.11,992.02 L260.11,991.79 L260.11,991.55 L260.11,991.31 L260.11,991.07 L260.12,990.82 L260.12,990.56 L260.12,990.30 L260.12,990.03 L260.13,989.75 L260.13,989.47 L260.13,989.19 L260.13,988.89 L260.14,988.60 L260.14,988.29 L260.14,987.98 L260.14,987.66 L260.15,987.33 L260.15,987.00 L260.15,986.66 L260.15,986.32 L260.16,985.96 L260.16,985.60 L260.16,985.24 L260.17,984.86 L260.17,984.48 L260.17,984.09 L260.18,983.69 L260.18,983.29 L260.18,982.88 L260.19,982.46 L260.19,982.03 L260.19,981.59 L260.20,981.15 L260.20,980.70 L260.21,980.23 L260.21,979.76 L260.21,979.29 L260.22,978.80 L260.22,978.30 L260.23,977.80 L260.23,977.28 L260.23,976.76 L260.24,976.23 L260.24,975.69 L260.25,975.14 L260.25,974.58 L260.26,974.01 L260.26,973.43 L260.27,972.84 L260.27,972.24 L260.28,971.63 L260.28,971.01 L260.29,970.38 L260.29,969.74 L260.30,969.09 L260.30,968.43 L260.31,967.75 L260.32,967.07 L260.32,966.38 L260.33,965.67 L260.33,964.95 L260.34,964.23 L260.35,963.49 L260.35,962.74 L260.36,961.98 L260.37,961.20 L260.37,960.42 L260.38,959.62 L260.39,958.81 L260.39,957.99 L260.40,957.15 L260.41,956.31 L260.41,955.45 L260.42,954.58 L260.43,953.69 L260.44,952.80 L260.44,951.89 L260.45,950.96 L260.46,950.03 L260.47,949.08 L260.48,948.11 L260.49,947.14 L260.49,946.14 L260.50,945.14 L260.51,944.12 L260.52,943.09 L260.53,942.04 L260.54,940.98 L260.55,939.91 L260.56,938.82 L260.57,937.71 L260.58,936.59 L260.58,935.46 L260.59,934.31 L260.60,933.14 L260.61,931.96 L260.62,930.77 L260.64,929.56 L260.65,928.33 L260.66,927.09 L260.67,925.83 L260.68,924.56 L260.69,923.27 L260.70,921.96 L260.71,920.64 L260.72,919.30 L260.73,917.94 L260.75,916.57 L260.76,915.18 L260.77,913.78 L260.78,912.35 L260.80,910.91 L260.81,909.45 L260.82,907.98 L260.83,906.49 L260.85,904.97 L260.86,903.45 L260.87,901.90 L260.89,900.33 L260.90,898.75 L260.91,897.15 L260.93,895.53 L260.94,893.89 L260.96,892.23 L260.97,890.56 L260.99,888.86 L261.00,887.15 L261.02,885.42 L261.03,883.66 L261.05,881.89 L261.06,880.10 L261.08,878.29 L261.09,876.46 L261.11,874.61 L261.13,872.74 L261.14,870.85 L261.16,868.93 L261.18,867.00 L261.19,865.05 L261.21,863.08 L261.23,861.08 L261.25,859.07 L261.26,857.03 L261.28,854.98 L261.30,852.90 L261.32,850.80 L261.34,848.68 L261.36,846.54 L261.38,844.37 L261.40,842.19 L261.41,839.98 L261.43,837.75 L261.45,835.50 L261.47,833.22 L261.50,830.93 L261.52,828.61 L261.54,826.27 L261.56,823.90 L261.58,821.51 L261.60,819.10 L261.62,816.67 L261.64,814.21 L261.67,811.73 L261.69,809.23 L261.71,806.70 L261.73,804.15 L261.76,801.58 L261.78,798.98 L261.80,796.36 L261.83,793.72 L261.85,791.05 L261.88,788.35 L261.90,785.63 L261.93,782.89 L261.95,780.12 L261.98,777.33 L262.00,774.51 L262.03,771.67 L262.05,768.81 L262.08,765.91 L262.11,763.00 L262.13,760.05 L262.16,757.09 L262.19,754.09 L262.21,751.08 L262.24,748.03 L262.27,744.96 L262.30,741.87 L262.33,738.75 L262.36,735.60 L262.39,732.42 L262.43,729.23 L262.47,726.00 L262.51,722.75 L262.55,719.47 L262.59,716.16 L262.64,712.83 L262.69,709.47 L262.74,706.09 L262.80,702.68 L262.85,699.24 L262.91,695.77 L262.97,692.28 L263.03,688.76 L263.10,685.21 L263.16,681.64 L263.23,678.04 L263.30,674.41 L263.38,670.75 L263.45,667.07 L263.53,663.35 L263.60,659.61 L263.68,655.85 L263.76,652.05 L263.84,648.23 L263.93,644.38 L264.01,640.50 L264.10,636.59 L264.18,632.66 L264.27,628.69 L264.36,624.70 L264.45,620.68 L264.54,616.63 L264.62,612.56 L264.71,608.45 L264.80,604.32 L264.89,600.16 L264.98,595.96 L265.07,591.75 L265.16,587.50 L265.25,583.22 L265.34,578.92 L265.42,574.58 L265.51,570.22 L265.59,565.83 L265.68,561.41 L265.76,556.96 L265.84,552.48 L265.91,547.97 L265.99,543.43 L266.06,538.87 L266.13,534.27 L266.19,529.65 L266.25,524.99 L266.31,520.31 L266.36,515.60 L266.41,510.99 L266.46,510.57 L266.50,510.15 L266.55,509.73 L266.59,509.31 L266.63,508.88 L266.66,508.45 L266.70,508.02 L266.73,507.58 L266.76,507.15 L266.79,506.71 L266.82,506.27 L266.84,505.82 L266.87,505.37 L266.89,504.92 L266.91,504.47 L266.93,504.02 L266.95,503.56 L266.97,503.10 L266.98,502.64 L267.00,502.17 L267.01,501.70 L267.03,501.23 L267.04,500.76 L267.05,500.29 L267.06,499.81 L267.07,499.33 L267.08,498.84 L267.09,498.36 L267.10,497.87 L267.11,497.38 L267.12,496.89 L267.13,496.39 L267.14,495.89 L267.16,495.39 L267.17,494.89 L267.18,494.38 L267.19,493.88 L267.21,493.37 L267.22,492.85 L267.24,492.34 L267.26,491.82 L267.28,491.30 L267.30,490.78 L267.33,490.25 L267.35,489.72 L267.38,489.19 L267.41,488.66 L267.45,488.12 L267.48,487.59 L267.52,487.05 L267.57,486.50 L267.62,485.96 L267.67,485.41 L267.72,484.86 L267.78,484.31 L267.85,483.75 L267.92,483.20 L267.99,482.64 L268.06,482.08 L268.14,481.51 L268.21,480.95 L268.29,480.38 L268.36,479.80 L268.44,479.23 L268.51,478.66 L268.59,478.08 L268.67,477.50 L268.75,476.91 L268.83,476.33 L268.91,475.74 L268.99,475.15 L269.07,474.56 L269.15,473.96 L269.23,473.37 L269.31,472.77 L269.39,472.17 L269.48,471.56 L269.56,470.96 L269.64,470.35 L269.73,469.74 L269.81,469.13 L269.90,468.52 L269.99,467.90 L270.07,467.28 L270.16,466.66 L270.25,466.04 L270.34,465.41 L270.43,464.78 L270.51,464.16 L270.60,463.52 L270.69,462.89 L270.79,462.26 L270.88,461.62 L270.97,460.98 L271.06,460.34 L271.15,459.69 L271.25,459.05 L271.34,458.40 L271.44,457.75 L271.53,457.10 L271.63,456.45 L271.72,455.79 L271.82,455.13 L271.92,454.47 L272.02,453.81 L272.12,453.15 L272.21,452.49 L272.31,451.82 L272.42,451.15 L272.52,450.48 L272.62,449.81 L272.72,449.13 L272.82,448.46 L272.93,447.78 L273.03,447.10 L273.13,446.42 L273.24,445.74 L273.34,445.05 L273.45,444.37 L273.56,443.68 L273.67,442.99 L273.77,442.30 L273.88,441.60 L273.99,440.91 L274.10,440.21 L274.21,439.52 L274.32,438.82 L274.44,438.12 L274.55,437.41 L274.66,436.71 L274.77,436.00 L274.89,435.30 L275.00,434.59 L275.12,433.88 L275.24,433.17 L275.35,432.46 L275.47,431.74 L275.59,431.03 L275.71,430.31 L275.83,429.59 L275.95,428.87 L276.07,428.15 L276.19,427.43 L276.32,426.70 L276.44,425.98 L276.56,425.25 L276.69,424.53 L276.81,423.80 L276.94,423.07 L277.07,422.34 L277.19,421.60 L277.32,420.87 L277.45,420.14 L277.58,419.40 L277.71,418.66 L277.84,417.92 L277.97,417.19 L278.11,416.45 L278.24,415.70 L278.38,414.96 L278.51,414.22 L278.65,413.47 L278.78,412.73 L278.92,411.98 L279.06,411.24 L279.20,410.49 L279.34,409.74 L279.48,408.99 L279.62,408.24 L279.76,407.49 L279.90,406.73 L280.05,405.98 L280.19,405.23 L280.34,404.47 L280.48,403.72 L280.63,402.96 L280.78,402.20 L280.93,401.45 L281.08,400.69 L281.23,399.93 L281.38,399.17 L281.53,398.41 L281.68,397.65 L281.84,396.88 L281.99,396.12 L282.15,395.36 L282.30,394.60 L282.46,393.83 L282.62,393.07 L282.78,392.30 L282.94,391.54 L283.10,390.77 L283.26,390.00 L283.42,389.24 L283.59,388.47 L283.75,387.70 L283.92,386.94 L284.08,386.17 L284.25,385.40 L284.42,384.63 L284.59,383.86 L284.76,383.09 L284.93,382.32 L285.10,381.55 L285.28,380.78 L285.45,380.01 L285.62,379.24 L285.80,378.47 L285.98,377.70 L286.15,376.92 L286.33,376.15 L286.51,375.38 L286.69,374.61 L286.88,373.84 L287.06,373.06 L287.24,372.29 L287.43,371.52 L287.61,370.75 L287.80,369.98 L287.99,369.20 L288.18,368.43 L288.37,367.66 L288.56,366.89 L288.75,366.12 L288.94,365.34 L289.14,364.57 L289.33,363.80 L289.53,363.03 L289.73,362.26 L289.92,361.49 L290.12,360.72 L290.32,359.95 L290.53,359.17 L290.73,358.40 L290.93,357.63 L291.14,356.86 L291.34,356.09 L291.55,355.33 L291.76,354.56 L291.97,353.79 L292.18,353.02 L292.39,352.25 L292.60,351.48 L292.82,350.72 L293.03,349.95 L293.25,349.18 L293.46,348.42 L293.68,347.65 L293.90,346.89 L294.12,346.12 L294.34,345.36 L294.56,344.60 L294.79,343.83 L295.01,343.07 L295.24,342.31 L295.46,341.55 L295.69,340.79 L295.92,340.03 L296.15,339.27 L296.38,338.51 L296.61,337.75 L296.85,336.99 L297.08,336.23 L297.32,335.48 L297.55,334.72 L297.79,333.97 L298.03,333.21 L298.27,332.46 L298.51,331.70 L298.75,330.95 L298.99,330.20 L299.24,329.45 L299.48,328.70 L299.73,327.95 L299.98,327.20 L300.23,326.45 L300.48,325.71 L300.73,324.96 L300.98,324.22 L301.23,323.47 L301.49,322.73 L301.74,321.99 L302.00,321.25 L302.26,320.50 L302.52,319.76 L302.78,319.03 L303.04,318.29 L303.30,317.55 L303.57,316.81 L303.83,316.08 L304.10,315.35 L304.36,314.61 L304.63,313.88 L304.90,313.15 L305.17,312.42 L305.45,311.69 L305.72,310.96 L306.00,310.24 L306.27,309.51 L306.55,308.79 L306.83,308.06 L307.11,307.34 L307.39,306.62 L307.67,305.90 L307.95,305.18 L308.24,304.46 L308.52,303.74 L308.81,303.03 L309.10,302.31 L309.39,301.60 L309.68,300.89 L309.97,300.18 L310.27,299.47 L310.56,298.76 L310.86,298.05 L311.16,297.34 L311.46,296.64 L311.76,295.93 L312.06,295.23 L312.36,294.53 L312.66,293.83 L312.97,293.13 L313.28,292.43 L313.58,291.74 L313.89,291.04 L314.20,290.35 L314.52,289.65 L314.83,288.96 L315.14,288.27 L315.46,287.58 L315.78,286.90 L316.10,286.21 L316.42,285.53 L316.74,284.84 L317.06,284.16 L317.38,283.48 L317.71,282.80 L318.04,282.12 L318.36,281.45 L318.69,280.77 L319.03,280.10 L319.36,279.43 L319.69,278.76 L320.03,278.09 L320.36,277.42 L320.70,276.75 L321.04,276.09 L321.38,275.42 L321.72,274.76 L322.07,274.10 L322.41,273.44 L322.76,272.78 L323.11,272.12 L323.46,271.47 L323.81,270.81 L324.16,270.16 L324.51,269.51 L324.87,268.86 L325.23,268.21 L325.58,267.57 L325.94,266.92 L326.30,266.28 L326.67,265.64 L327.03,265.00 L327.40,264.36 L327.76,263.72 L328.13,263.08 L328.50,262.45 L328.87,261.82 L329.25,261.18 L329.62,260.55 L330.00,259.93 L330.37,259.30 L330.75,258.67 L331.13,258.05 L331.52,257.43 L331.90,256.81 L332.28,256.19 L332.67,255.57 L333.06,254.95 L333.45,254.34 L333.84,253.72 L334.23,253.11 L334.63,252.50 L335.02,251.89 L335.42,251.29 L335.82,250.68 L336.22,250.08 L336.62,249.47 L337.03,248.87 L337.43,248.27 L337.84,247.68 L338.25,247.08 L338.66,246.49 L339.07,245.89 L339.48,245.30 L339.90,244.71 L340.31,244.12 L340.73,243.54 L341.15,242.95 L341.57,242.37 L342.00,241.79 L342.42,241.20 L342.85,240.63 L343.28,240.05 L343.71,239.47 L344.14,238.90 L344.57,238.33 L345.00,237.76 L345.44,237.19 L345.88,236.62 L346.32,236.05 L346.76,235.49 L347.20,234.92 L347.65,234.36 L348.09,233.80 L348.54,233.24 L348.99,232.69 L349.44,232.13 L349.90,231.58 L350.35,231.03 L350.81,230.48 L351.27,229.93 L351.73,229.38 L352.19,228.83 L352.65,228.29 L353.12,227.75 L353.58,227.21 L354.05,226.67 L354.52,226.13 L355.00,225.59 L355.47,225.06 L355.95,224.52 L356.42,223.99 L356.90,223.46 L357.38,222.93 L357.87,222.41 L358.35,221.88 L358.84,221.36 L359.33,220.84 L359.82,220.32 L360.31,219.80 L360.80,219.28 L361.30,218.76 L361.80,218.25 L362.30,217.74 L362.80,217.23 L363.30,216.72 L363.80,216.21 L364.31,215.70 L364.82,215.20 L365.33,214.69 L365.84,214.19 L366.35,213.69 L366.87,213.19 L367.39,212.69 L367.91,212.20 L368.43,211.70 L368.95,211.21 L369.48,210.72 L370.00,210.23 L370.53,209.74 L371.06,209.26 L371.60,208.77 L372.13,208.29 L372.67,207.81 L373.21,207.33 L373.75,206.85 L374.29,206.37 L374.83,205.89 L375.38,205.42 L375.93,204.95 L376.48,204.47 L377.03,204.00 L377.59,203.54 L378.14,203.07 L378.70,202.60 L379.26,202.14 L379.82,201.68 L380.38,201.22 L380.95,200.76 L381.52,200.30 L382.09,199.84 L382.66,199.39 L383.23,198.94 L383.81,198.48 L384.39,198.03 L384.97,197.58 L385.55,197.14 L386.13,196.69 L386.72,196.25 L387.31,195.80 L387.90,195.36 L388.49,194.92 L389.08,194.48 L389.68,194.04 L390.28,193.61 L390.88,193.17 L391.48,192.74 L392.08,192.31 L392.69,191.88 L393.30,191.45 L393.91,191.02 L394.52,190.60 L395.14,190.17 L395.75,189.75 L396.37,189.33 L396.99,188.91 L397.62,188.49 L398.24,188.07 L398.87,187.66 L399.50,187.24 L400.13,186.83 L400.77,186.42 L401.40,186.01 L402.04,185.60 L402.68,185.19 L403.32,184.78 L403.97,184.38 L404.61,183.97 L405.26,183.57 L405.91,183.17 L406.57,182.77 L407.22,182.37 L407.88,181.98 L408.54,181.58 L409.20,181.19 L409.87,180.80 L410.53,180.41 L411.20,180.02 L411.87,179.63 L412.55,179.24 L413.22,178.85 L413.90,178.47 L414.58,178.09 L415.26,177.70 L415.95,177.32 L416.63,176.94 L417.32,176.57 L418.01,176.19 L418.71,175.81 L419.40,175.44 L420.10,175.07 L420.80,174.70 L421.50,174.33 L422.21,173.96 L422.92,173.59 L423.63,173.22 L424.34,172.86 L425.05,172.49 L425.77,172.13 L426.49,171.77 L427.21,171.41 L427.93,171.05 L428.66,170.69 L429.38,170.34 L430.12,169.98 L430.85,169.63 L431.58,169.28 L432.32,168.93 L433.06,168.58 L433.80,168.23 L434.55,167.88 L435.29,167.53 L436.04,167.19 L436.80,166.84 L437.55,166.50 L438.31,166.16 L439.07,165.82 L439.83,165.48 L440.59,165.14 L441.36,164.81 L442.13,164.47 L442.90,164.14 L443.67,163.80 L444.45,163.47 L445.23,163.14 L446.01,162.81 L446.79,162.48 L447.58,162.16 L448.36,161.83 L449.16,161.51 L449.95,161.18 L450.74,160.86 L451.54,160.54 L452.34,160.22 L453.15,159.90 L453.95,159.58 L454.76,159.26 L455.57,158.95 L456.39,158.63 L457.20,158.32 L458.02,158.01 L458.84,157.70 L459.66,157.39 L460.49,157.08 L461.32,156.77 L462.15,156.46 L462.98,156.16 L463.82,155.85 L464.66,155.55 L465.50,155.25 L466.34,154.95 L467.19,154.65 L468.04,154.35 L468.89,154.05 L469.75,153.75 L470.60,153.46 L471.46,153.16 L472.33,152.87 L473.19,152.58 L474.06,152.28 L474.93,151.99 L475.80,151.70 L476.68,151.42 L477.56,151.13 L478.44,150.84 L479.32,150.56 L480.21,150.27 L481.10,149.99 L481.99,149.71 L482.88,149.43 L483.78,149.14 L484.68,148.87 L485.58,148.59 L486.49,148.31 L487.39,148.03 L488.30,147.76 L489.22,147.48 L490.13,147.21 L491.05,146.94 L491.97,146.67 L492.90,146.40 L493.82,146.13 L494.75,145.86 L495.69,145.59 L496.62,145.33 L497.56,145.06 L498.50,144.80 L499.44,144.53 L500.39,144.27 L501.34,144.01 L502.29,143.75 L503.25,143.49 L504.20,143.23 L505.17,142.97 L506.13,142.72 L507.09,142.46 L508.06,142.21 L509.04,141.95 L510.01,141.70 L510.99,141.45 L511.97,141.19 L512.95,140.94 L513.94,140.69 L514.93,140.45 L515.92,140.20 L516.91,139.95 L517.91,139.71 L518.91,139.46 L519.91,139.22 L520.92,138.97 L521.93,138.73 L522.94,138.49 L523.96,138.25 L524.98,138.01 L526.00,137.77 L527.02,137.53 L528.05,137.30 L529.08,137.06 L530.11,136.83 L531.15,136.59 L532.18,136.36 L533.23,136.12 L534.27,135.89 L535.32,135.66 L536.37,135.43 L537.42,135.20 L538.48,134.97 L539.54,134.75 L540.60,134.52 L541.67,134.29 L542.74,134.07 L543.81,133.84 L544.88,133.62 L545.96,133.40 L547.04,133.18 L548.13,132.95 L549.21,132.73 L550.30,132.51 L551.40,132.30 L552.49,132.08 L553.59,131.86 L554.69,131.64 L555.80,131.43 L556.91,131.21 L558.02,131.00 L559.14,130.79 L560.25,130.57 L561.37,130.36 L562.50,130.15 L563.63,129.94 L564.76,129.73 L565.89,129.52 L567.03,129.32 L568.17,129.11 L569.31,128.90 L570.46,128.70 L571.61,128.49 L572.76,128.29 L573.92,128.09 L575.07,127.88 L576.24,127.68 L577.40,127.48 L578.57,127.28 L579.74,127.08 L580.92,126.88 L582.10,126.68 L583.28,126.49 L584.46,126.29 L585.65,126.09 L586.84,125.90 L588.04,125.70 L589.24,125.51 L590.44,125.32 L591.64,125.12 L592.85,124.93 L594.06,124.74 L595.27,124.55 L596.49,124.36 L597.71,124.17 L598.94,123.98 L600.17,123.80 L601.40,123.61 L602.63,123.42 L603.87,123.24 L605.11,123.05 L606.35,122.87 L607.60,122.68 L608.85,122.50 L610.11,122.32 L611.36,122.14 L612.63,121.96 L613.89,121.78 L615.16,121.60 L616.43,121.42 L617.70,121.24 L618.98,121.06 L620.26,120.88 L621.55,120.71 L622.84,120.53 L624.13,120.36 L625.43,120.18 L626.72,120.01 L628.03,119.84 L629.33,119.66 L630.64,119.49 L631.95,119.32 L633.27,119.15 L634.59,118.98 L635.91,118.81 L637.24,118.64 L638.57,118.47 L639.90,118.31 L641.24,118.14 L642.58,117.97 L643.93,117.81 L645.27,117.64 L646.62,117.48 L647.98,117.31 L649.34,117.15 L650.70,116.99 L652.07,116.82 L653.43,116.66 L654.81,116.50 L656.18,116.34 L657.56,116.18 L658.95,116.02 L660.33,115.86 L661.72,115.70 L663.12,115.55 L664.52,115.39 L665.92,115.23 L667.32,115.08 L668.73,114.92 L670.14,114.77 L671.56,114.61 L672.98,114.46 L674.40,114.31 L675.83,114.15 L677.26,114.00 L678.70,113.85 L680.13,113.70 L681.58,113.55 L683.02,113.40 L684.47,113.25 L685.92,113.10 L687.38,112.95 L688.84,112.80 L690.31,112.66 L691.77,112.51 L693.25,112.36 L694.72,112.22 L696.20,112.07 L697.68,111.93 L699.17,111.78 L700.66,111.64 L702.15,111.50 L703.65,111.35 L705.15,111.21 L706.66,111.07 L708.17,110.93 L709.68,110.79 L711.20,110.65 L712.72,110.51 L714.25,110.37 L715.78,110.23 L717.31,110.09 L718.84,109.96 L720.38,109.82 L721.93,109.68 L723.48,109.55 L725.03,109.41 L726.58,109.28 L728.14,109.14 L729.71,109.01 L731.28,108.87 L732.85,108.74 L734.42,108.61 L736.00,108.48 L737.58,108.34 L739.17,108.21 L740.76,108.08 L742.36,107.95 L743.96,107.82 L745.56,107.69 L747.17,107.56 L748.78,107.43 L750.39,107.31 L752.01,107.18 L753.63,107.05 L755.26,106.92 L756.89,106.80 L758.53,106.67 L760.17,106.55 L761.81,106.42 L763.46,106.30 L765.11,106.17 L766.76,106.05 L768.42,105.93 L770.09,105.80 L771.75,105.68 L773.42,105.56 L775.10,105.44 L776.78,105.32 L778.46,105.20 L780.15,105.08 L781.84,104.96 L783.54,104.84 L785.24,104.72 L786.94,104.60 L788.65,104.48 L790.37,104.36 L792.08,104.25 L793.80,104.13 L795.53,104.01 L797.26,103.90 L798.99,103.78 L800.73,103.67 L802.47,103.55 L804.22,103.44 L805.97,103.32 L807.72,103.21 L809.48,103.10 L811.24,102.98 L813.01,102.87 L814.78,102.76 L816.56,102.65 L818.34,102.54 L820.12,102.42 L821.91,102.31 L823.70,102.20 L825.50,102.09 L827.30,101.99 L829.11,101.88 L830.92,101.77 L832.73,101.66 L834.55,101.55 L836.37,101.44 L838.20,101.34 L840.03,101.23 L841.87,101.12 L843.71,101.02 L845.55,100.91 L847.40,100.81 L849.26,100.70 L851.11,100.60 L852.98,100.49 L854.84,100.39 L856.71,100.29 L858.59,100.18 L860.47,100.08 L862.35,99.98 L864.24,99.88 L866.13,99.77 L868.03,99.67 L869.93,99.57 L871.84,99.47 L873.75,99.37 L875.67,99.27 L877.59,99.17 L879.51,99.07 L881.44,98.97 L883.37,98.88 L885.31,98.78 L887.25,98.68 L889.20,98.58 L891.15,98.48 L893.11,98.39 L895.07,98.29 L897.03,98.20 L899.00,98.10 L900.98,98.00 L902.95,97.91 L904.94,97.81 L906.93,97.72 L908.92,97.62 L910.91,97.53 L912.92,97.44 L914.92,97.34 L916.93,97.25 L918.95,97.16 L920.97,97.07 L922.99,96.97 L925.02,96.88 L927.06,96.79 L929.10,96.70 L931.14,96.61 L933.19,96.52 L935.24,96.43 L937.30,96.34 L939.36,96.25 L941.43,96.16 L943.50,96.07 L945.57,95.98 L947.65,95.89 L949.74,95.81 L951.83,95.72 L953.93,95.63 L956.03,95.54 L958.13,95.46 L960.24,95.37 L962.35,95.28 L964.47,95.20 L966.60,95.11 L968.73,95.03 L970.86,94.94 L973.00,94.86 L975.14,94.77 L977.29,94.69 L979.44,94.60 L981.60,94.52 L983.76,94.44 L985.93,94.35 L988.10,94.27 L990.28,94.19 L992.46,94.11 L994.65,94.03 L996.84,93.94 L999.03,93.86 L1001.23,93.78 L1003.44,93.70 L1005.65,93.62 L1007.87,93.54 L1010.09,93.46 L1012.32,93.38 L1014.55,93.30 L1016.78,93.22 L1019.02,93.14 L1021.27,93.06 L1023.52,92.98 L1025.78,92.91 L1028.04,92.83 L1030.30,92.75 L1032.57,92.67 L1034.85,92.60 L1037.13,92.52 L1039.42,92.44 L1041.71,92.37 L1044.00,92.29 L1046.30,92.21 L1048.61,92.14 L1050.92,92.06 L1053.24,91.99 L1055.56,91.91 L1057.88,91.84 L1060.22,91.76 L1062.55,91.69 L1064.89,91.62 L1067.24,91.54 L1069.59,91.47 L1071.95,91.40 L1074.31,91.32 L1076.68,91.25 L1079.05,91.18 L1081.43,91.10 L1083.81,91.03 L1086.20,90.96 L1088.59,90.89 L1090.99,90.82 L1093.40,90.75 L1095.80,90.68 L1098.22,90.61 L1100.64,90.54 L1103.06,90.47 L1105.49,90.40 L1107.93,90.33 L1110.37,90.26 L1112.81,90.19 L1115.26,90.12 L1117.72,90.05 L1120.18,89.98 L1122.65,89.91 L1125.12,89.85 L1127.60,89.78 L1130.08,89.71 L1132.57,89.64 L1135.06,89.58 L1137.56,89.51 L1140.06,89.44 L1142.57,89.37 L1145.09,89.31 L1147.61,89.24 L1150.13,89.18 L1152.66,89.11 L1155.20,89.05 L1157.74,88.98 L1160.29,88.92 L1162.84,88.85 L1165.40,88.79 L1167.96,88.72 L1170.53,88.66 L1173.10,88.59 L1175.68,88.53 L1178.27,88.47 L1180.86,88.40 L1183.45,88.34 L1186.05,88.28 L1188.66,88.21 L1191.27,88.15 L1193.89,88.09 L1196.51,88.03 L1199.14,87.97 L1201.78,87.90 L1204.42,87.84 L1207.06,87.78 L1209.71,87.72 L1212.37,87.66 L1215.03,87.60 L1217.70,87.54 L1220.37,87.48 L1223.05,87.42 L1225.74,87.36 L1228.43,87.30 L1231.12,87.24 L1233.82,87.18 L1236.53,87.12 L1239.24,87.06 L1241.96,87.00 L1244.69,86.94 L1247.42,86.88 L1250.15,86.83 L1252.89,86.77 L1255.64,86.71 L1258.39,86.65 L1261.15,86.59 L1263.91,86.54 L1266.68,86.48 L1269.46,86.42 L1272.24,86.37 L1275.03,86.31 L1277.82,86.25 L1280.62,86.20 L1283.42,86.14 L1286.23,86.09 L1289.04,86.03 L1291.87,85.97 L1294.69,85.92 L1297.53,85.86 L1300.36,85.81 L1303.21,85.75 L1306.06,85.70 L1308.92,85.65 L1311.78,85.59 L1314.65,85.54 L1317.52,85.48 L1320.40,85.43 L1323.28,85.38 L1326.18,85.32 L1329.07,85.27 L1331.98,85.22 L1334.88,85.16 L1337.80,85.11 L1340.72,85.06 L1343.65,85.00 L1346.58,84.95 L1349.52,84.90 L1352.46,84.85 L1355.41,84.80 L1358.37,84.75 L1361.33,84.69 L1364.30,84.64 L1367.28,84.59 L1370.26,84.54 L1373.24,84.49 L1376.24,84.44 L1379.23,84.39 L1382.24,84.34 L1385.25,84.29 L1388.27,84.24 L1391.29,84.19 L1394.32,84.14 L1397.35,84.09 L1400.39,84.04 L1403.44,83.99" stroke="#FF8000" stroke-width="5"/>
</g>
<g fill="#000" shape-rendering="crispEdges">
<rect x="219.0" y="29.1" width="1186.2" height="3.6"/>
<rect x="226.0" y="990.8" width="1179.0" height="3.3"/>
<rect x="226.0" y="29.1" width="4.0" height="964.9"/>
<rect x="1401.9" y="29.1" width="3.2" height="982.6"/>
<rect x="258.15" y="994.0" width="3.5" height="17.7"/>
<rect x="258.15" y="32.5" width="3.5" height="17.3"/>
<rect x="321.68" y="994.0" width="3.5" height="7.7"/>
<rect x="321.68" y="32.5" width="3.5" height="7.3"/>
<rect x="385.21" y="994.0" width="3.5" height="17.7"/>
<rect x="385.21" y="32.5" width="3.5" height="17.3"/>
<rect x="448.74" y="994.0" width="3.5" height="7.7"/>
<rect x="448.74" y="32.5" width="3.5" height="7.3"/>
<rect x="512.27" y="994.0" width="3.5" height="17.7"/>
<rect x="512.27" y="32.5" width="3.5" height="17.3"/>
<rect x="575.80" y="994.0" width="3.5" height="7.7"/>
<rect x="575.80" y="32.5" width="3.5" height="7.3"/>
<rect x="639.33" y="994.0" width="3.5" height="17.7"/>
<rect x="639.33" y="32.5" width="3.5" height="17.3"/>
<rect x="702.86" y="994.0" width="3.5" height="7.7"/>
<rect x="702.86" y="32.5" width="3.5" height="7.3"/>
<rect x="766.39" y="994.0" width="3.5" height="17.7"/>
<rect x="766.39" y="32.5" width="3.5" height="17.3"/>
<rect x="829.92" y="994.0" width="3.5" height="7.7"/>
<rect x="829.92" y="32.5" width="3.5" height="7.3"/>
<rect x="893.45" y="994.0" width="3.5" height="17.7"/>
<rect x="893.45" y="32.5" width="3.5" height="17.3"/>
<rect x="956.98" y="994.0" width="3.5" height="7.7"/>
<rect x="956.98" y="32.5" width="3.5" height="7.3"/>
<rect x="1020.51" y="994.0" width="3.5" height="17.7"/>
<rect x="1020.51" y="32.5" width="3.5" height="17.3"/>
<rect x="1084.04" y="994.0" width="3.5" height="7.7"/>
<rect x="1084.04" y="32.5" width="3.5" height="7.3"/>
<rect x="1147.57" y="994.0" width="3.5" height="17.7"/>
<rect x="1147.57" y="32.5" width="3.5" height="17.3"/>
<rect x="1211.10" y="994.0" width="3.5" height="7.7"/>
<rect x="1211.10" y="32.5" width="3.5" height="7.3"/>
<rect x="1274.63" y="994.0" width="3.5" height="17.7"/>
<rect x="1274.63" y="32.5" width="3.5" height="17.3"/>
<rect x="1338.16" y="994.0" width="3.5" height="7.7"/>
<rect x="1338.16" y="32.5" width="3.5" height="7.3"/>
<rect x="208.7" y="967.25" width="17.3" height="3.5"/>
<rect x="1384.0" y="967.25" width="18.0" height="3.5"/>
<rect x="218.8" y="921.45" width="7.2" height="3.5"/>
<rect x="1394.0" y="921.45" width="8.0" height="3.5"/>
<rect x="208.7" y="875.65" width="17.3" height="3.5"/>
<rect x="1384.0" y="875.65" width="18.0" height="3.5"/>
<rect x="218.8" y="829.85" width="7.2" height="3.5"/>
<rect x="1394.0" y="829.85" width="8.0" height="3.5"/>
<rect x="208.7" y="784.05" width="17.3" height="3.5"/>
<rect x="1384.0" y="784.05" width="18.0" height="3.5"/>
<rect x="218.8" y="738.25" width="7.2" height="3.5"/>
<rect x="1394.0" y="738.25" width="8.0" height="3.5"/>
<rect x="208.7" y="692.45" width="17.3" height="3.5"/>
<rect x="1384.0" y="692.45" width="18.0" height="3.5"/>
<rect x="218.8" y="646.65" width="7.2" height="3.5"/>
<rect x="1394.0" y="646.65" width="8.0" height="3.5"/>
<rect x="208.7" y="600.85" width="17.3" height="3.5"/>
<rect x="1384.0" y="600.85" width="18.0" height="3.5"/>
<rect x="218.8" y="555.05" width="7.2" height="3.5"/>
<rect x="1394.0" y="555.05" width="8.0" height="3.5"/>
<rect x="208.7" y="469.25" width="17.3" height="3.5"/>
<rect x="1384.0" y="469.25" width="18.0" height="3.5"/>
<rect x="218.8" y="429.25" width="7.2" height="3.5"/>
<rect x="1394.0" y="429.25" width="8.0" height="3.5"/>
<rect x="208.7" y="389.25" width="17.3" height="3.5"/>
<rect x="1384.0" y="389.25" width="18.0" height="3.5"/>
<rect x="218.8" y="349.25" width="7.2" height="3.5"/>
<rect x="1394.0" y="349.25" width="8.0" height="3.5"/>
<rect x="208.7" y="309.25" width="17.3" height="3.5"/>
<rect x="1384.0" y="309.25" width="18.0" height="3.5"/>
<rect x="218.8" y="269.25" width="7.2" height="3.5"/>
<rect x="1394.0" y="269.25" width="8.0" height="3.5"/>
<rect x="208.7" y="229.25" width="17.3" height="3.5"/>
<rect x="1384.0" y="229.25" width="18.0" height="3.5"/>
<rect x="218.8" y="189.25" width="7.2" height="3.5"/>
<rect x="1394.0" y="189.25" width="8.0" height="3.5"/>
<rect x="208.7" y="149.25" width="17.3" height="3.5"/>
<rect x="1384.0" y="149.25" width="18.0" height="3.5"/>
<rect x="218.8" y="109.25" width="7.2" height="3.5"/>
<rect x="1394.0" y="109.25" width="8.0" height="3.5"/>
<rect x="208.7" y="69.25" width="17.3" height="3.5"/>
<rect x="1384.0" y="69.25" width="18.0" height="3.5"/>
</g>
<g stroke="#000" stroke-width="3" stroke-linecap="butt">
<line x1="208.5" y1="519" x2="248" y2="502.5"/>
<line x1="1384.3" y1="519.7" x2="1421.8" y2="503.9"/>
</g>
<g font-weight="bold" font-size="57px" fill="#000">
<text x="259.9" y="1069.3" text-anchor="middle">0</text>
<text x="387.0" y="1069.3" text-anchor="middle">2</text>
<text x="514.0" y="1069.3" text-anchor="middle">4</text>
<text x="641.1" y="1069.3" text-anchor="middle">6</text>
<text x="768.1" y="1069.3" text-anchor="middle">8</text>
<text x="895.2" y="1069.3" text-anchor="middle">10</text>
<text x="1022.3" y="1069.3" text-anchor="middle">12</text>
<text x="1149.3" y="1069.3" text-anchor="middle">14</text>
<text x="1276.4" y="1069.3" text-anchor="middle">16</text>
<text x="1403.4" y="1069.3" text-anchor="middle">18</text>
<text x="195" y="985.7" text-anchor="end">0</text>
<text x="195" y="894.1" text-anchor="end">2</text>
<text x="195" y="802.5" text-anchor="end">4</text>
<text x="195" y="710.9" text-anchor="end">6</text>
<text x="195" y="619.3" text-anchor="end">8</text>
<text x="195" y="487.7" text-anchor="end">20</text>
<text x="195" y="407.7" text-anchor="end">40</text>
<text x="195" y="327.7" text-anchor="end">60</text>
<text x="195" y="247.7" text-anchor="end">80</text>
<text x="195" y="167.7" text-anchor="end">100</text>
<text x="195" y="87.7" text-anchor="end">120</text>
</g>
<circle cx="727.4" cy="192.4" r="16.2" fill="#940085"/>
<path d="M727.4,234.6 L746.9,267.3 L707.9,267.3 Z" fill="#008080"/>
<rect x="712.7" y="304.8" width="28.6" height="29.4" fill="#000"/>
<polygon points="727.00,370.40 729.99,379.59 739.65,379.59 731.83,385.27 734.82,394.46 727.00,388.78 719.18,394.46 722.17,385.27 714.35,379.59 724.01,379.59" fill="#FF8000" stroke="#FF8000" stroke-width="1" stroke-linejoin="round"/>
<g font-size="51.85px" fill="#000">
<text x="799.6" y="209.8">Thermal decomposition</text>
<text x="799.6" y="273.4">Coprecipitation</text>
<text x="799.6" y="337.0">Commercial</text>
<text x="799.6" y="400.2">Clusters</text>
</g>
<text x="616.2" y="1172.5" font-weight="bold" font-size="65.7px" fill="#000" id="xt">[As]<tspan dy="14.3">eq</tspan><tspan dy="-14.3">, mg/L</tspan></text>
<g transform="translate(63.9,778.1) rotate(-90) scale(0.9635,1)"><text x="0" y="0" font-weight="bold" font-size="58.5px" fill="#000" id="yt">q, mg<tspan dy="14.3">As</tspan><tspan dy="-14.3">/g</tspan><tspan dy="14.3">Magnetite</tspan></text></g>
</svg></body></html>
